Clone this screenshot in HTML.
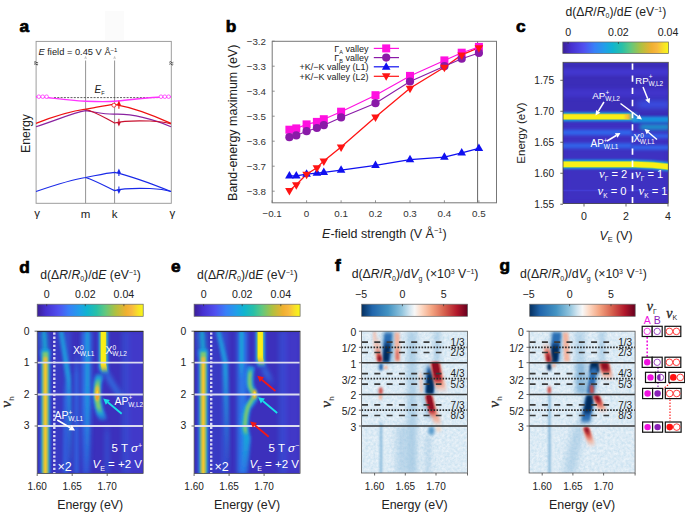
<!DOCTYPE html>
<html><head><meta charset="utf-8"><style>
html,body{margin:0;padding:0;background:#fff;}
svg{display:block;font-family:"Liberation Sans", sans-serif;}
</style></head><body>
<svg width="685" height="512" viewBox="0 0 685 512">
<rect width="685" height="512" fill="#fff"/>
<defs><linearGradient id="gpar" x1="0" y1="0" x2="1" y2="0"><stop offset="0.0" stop-color="#3b1f96"/><stop offset="0.08" stop-color="#4630d0"/><stop offset="0.2" stop-color="#5050f0"/><stop offset="0.3" stop-color="#3880f8"/><stop offset="0.4" stop-color="#20a0e8"/><stop offset="0.47" stop-color="#10b4d0"/><stop offset="0.56" stop-color="#28c0a8"/><stop offset="0.64" stop-color="#60c880"/><stop offset="0.74" stop-color="#b0c040"/><stop offset="0.84" stop-color="#f0b030"/><stop offset="0.89" stop-color="#f8b840"/><stop offset="0.95" stop-color="#f8e028"/><stop offset="1.0" stop-color="#f8f818"/></linearGradient><linearGradient id="grdbu" x1="0" y1="0" x2="1" y2="0"><stop offset="0.0" stop-color="#053061"/><stop offset="0.1" stop-color="#2166ac"/><stop offset="0.25" stop-color="#4393c3"/><stop offset="0.38" stop-color="#92c5de"/><stop offset="0.45" stop-color="#d1e5f0"/><stop offset="0.5" stop-color="#f7f7f7"/><stop offset="0.56" stop-color="#fddbc7"/><stop offset="0.66" stop-color="#f4a582"/><stop offset="0.78" stop-color="#d6604d"/><stop offset="0.9" stop-color="#b2182b"/><stop offset="1.0" stop-color="#67001f"/></linearGradient><filter id="bl0_1" filterUnits="userSpaceOnUse" x="0" y="0" width="685" height="512"><feGaussianBlur stdDeviation="0.1"/></filter><filter id="bl0_2" filterUnits="userSpaceOnUse" x="0" y="0" width="685" height="512"><feGaussianBlur stdDeviation="0.2"/></filter><filter id="bl0_3" filterUnits="userSpaceOnUse" x="0" y="0" width="685" height="512"><feGaussianBlur stdDeviation="0.3"/></filter><filter id="bl0_4" filterUnits="userSpaceOnUse" x="0" y="0" width="685" height="512"><feGaussianBlur stdDeviation="0.4"/></filter><filter id="bl0_5" filterUnits="userSpaceOnUse" x="0" y="0" width="685" height="512"><feGaussianBlur stdDeviation="0.5"/></filter><filter id="bl0_6" filterUnits="userSpaceOnUse" x="0" y="0" width="685" height="512"><feGaussianBlur stdDeviation="0.6"/></filter><filter id="bl0_7" filterUnits="userSpaceOnUse" x="0" y="0" width="685" height="512"><feGaussianBlur stdDeviation="0.7"/></filter><filter id="bl0_8" filterUnits="userSpaceOnUse" x="0" y="0" width="685" height="512"><feGaussianBlur stdDeviation="0.8"/></filter><filter id="bl0_9" filterUnits="userSpaceOnUse" x="0" y="0" width="685" height="512"><feGaussianBlur stdDeviation="0.9"/></filter><filter id="bl1_0" filterUnits="userSpaceOnUse" x="0" y="0" width="685" height="512"><feGaussianBlur stdDeviation="1.0"/></filter><filter id="bl1_1" filterUnits="userSpaceOnUse" x="0" y="0" width="685" height="512"><feGaussianBlur stdDeviation="1.1"/></filter><filter id="bl1_2" filterUnits="userSpaceOnUse" x="0" y="0" width="685" height="512"><feGaussianBlur stdDeviation="1.2"/></filter><filter id="bl1_3" filterUnits="userSpaceOnUse" x="0" y="0" width="685" height="512"><feGaussianBlur stdDeviation="1.3"/></filter><filter id="bl1_4" filterUnits="userSpaceOnUse" x="0" y="0" width="685" height="512"><feGaussianBlur stdDeviation="1.4"/></filter><filter id="bl1_5" filterUnits="userSpaceOnUse" x="0" y="0" width="685" height="512"><feGaussianBlur stdDeviation="1.5"/></filter><filter id="bl1_6" filterUnits="userSpaceOnUse" x="0" y="0" width="685" height="512"><feGaussianBlur stdDeviation="1.6"/></filter><filter id="bl1_7" filterUnits="userSpaceOnUse" x="0" y="0" width="685" height="512"><feGaussianBlur stdDeviation="1.7"/></filter><filter id="bl1_8" filterUnits="userSpaceOnUse" x="0" y="0" width="685" height="512"><feGaussianBlur stdDeviation="1.8"/></filter><filter id="bl1_9" filterUnits="userSpaceOnUse" x="0" y="0" width="685" height="512"><feGaussianBlur stdDeviation="1.9"/></filter><filter id="bl2_0" filterUnits="userSpaceOnUse" x="0" y="0" width="685" height="512"><feGaussianBlur stdDeviation="2.0"/></filter><filter id="bl2_1" filterUnits="userSpaceOnUse" x="0" y="0" width="685" height="512"><feGaussianBlur stdDeviation="2.1"/></filter><filter id="bl2_2" filterUnits="userSpaceOnUse" x="0" y="0" width="685" height="512"><feGaussianBlur stdDeviation="2.2"/></filter><filter id="bl2_3" filterUnits="userSpaceOnUse" x="0" y="0" width="685" height="512"><feGaussianBlur stdDeviation="2.3"/></filter><filter id="bl2_4" filterUnits="userSpaceOnUse" x="0" y="0" width="685" height="512"><feGaussianBlur stdDeviation="2.4"/></filter><filter id="bl2_5" filterUnits="userSpaceOnUse" x="0" y="0" width="685" height="512"><feGaussianBlur stdDeviation="2.5"/></filter><filter id="bl2_6" filterUnits="userSpaceOnUse" x="0" y="0" width="685" height="512"><feGaussianBlur stdDeviation="2.6"/></filter><filter id="bl2_7" filterUnits="userSpaceOnUse" x="0" y="0" width="685" height="512"><feGaussianBlur stdDeviation="2.7"/></filter><filter id="bl2_8" filterUnits="userSpaceOnUse" x="0" y="0" width="685" height="512"><feGaussianBlur stdDeviation="2.8"/></filter><filter id="bl2_9" filterUnits="userSpaceOnUse" x="0" y="0" width="685" height="512"><feGaussianBlur stdDeviation="2.9"/></filter><filter id="bl3_0" filterUnits="userSpaceOnUse" x="0" y="0" width="685" height="512"><feGaussianBlur stdDeviation="3.0"/></filter><filter id="bl3_1" filterUnits="userSpaceOnUse" x="0" y="0" width="685" height="512"><feGaussianBlur stdDeviation="3.1"/></filter><filter id="bl3_2" filterUnits="userSpaceOnUse" x="0" y="0" width="685" height="512"><feGaussianBlur stdDeviation="3.2"/></filter><filter id="bl3_3" filterUnits="userSpaceOnUse" x="0" y="0" width="685" height="512"><feGaussianBlur stdDeviation="3.3"/></filter><filter id="bl3_4" filterUnits="userSpaceOnUse" x="0" y="0" width="685" height="512"><feGaussianBlur stdDeviation="3.4"/></filter><filter id="bl3_5" filterUnits="userSpaceOnUse" x="0" y="0" width="685" height="512"><feGaussianBlur stdDeviation="3.5"/></filter><filter id="bl3_6" filterUnits="userSpaceOnUse" x="0" y="0" width="685" height="512"><feGaussianBlur stdDeviation="3.6"/></filter><filter id="bl3_7" filterUnits="userSpaceOnUse" x="0" y="0" width="685" height="512"><feGaussianBlur stdDeviation="3.7"/></filter><filter id="bl3_8" filterUnits="userSpaceOnUse" x="0" y="0" width="685" height="512"><feGaussianBlur stdDeviation="3.8"/></filter><filter id="bl3_9" filterUnits="userSpaceOnUse" x="0" y="0" width="685" height="512"><feGaussianBlur stdDeviation="3.9"/></filter><filter id="bl4_0" filterUnits="userSpaceOnUse" x="0" y="0" width="685" height="512"><feGaussianBlur stdDeviation="4.0"/></filter><filter id="noise" filterUnits="userSpaceOnUse" x="0" y="0" width="685" height="512"><feTurbulence type="fractalNoise" baseFrequency="0.38" numOctaves="3" seed="5"/><feColorMatrix type="matrix" values="0.42 0 0 0 0.52  0.24 0 0 0 0.72  0.14 0 0 0 0.845  0 0 0 0 1"/></filter><clipPath id="cpc"><rect x="563" y="62.3" width="105.3" height="141.7"/></clipPath><clipPath id="cpd"><rect x="37.2" y="331.2" width="106" height="142.3"/></clipPath><clipPath id="cpe"><rect x="194.1" y="331.2" width="105.7" height="142.3"/></clipPath><clipPath id="cpf"><rect x="361.5" y="331.2" width="106" height="141.8"/></clipPath><clipPath id="cpg"><rect x="529.1" y="331.2" width="105.8" height="141.8"/></clipPath><marker id="arw" viewBox="0 0 10 10" refX="8" refY="5" markerWidth="4" markerHeight="4" orient="auto-start-reverse"><path d="M0,0 L10,5 L0,10 z" fill="context-stroke"/></marker></defs>
<text x="19.4" y="32.0" font-size="17.3" text-anchor="start" fill="#000" font-weight="bold" stroke="#000" stroke-width="0.7">a</text>
<text x="225.8" y="31.7" font-size="17.3" text-anchor="start" fill="#000" font-weight="bold" stroke="#000" stroke-width="0.7">b</text>
<text x="516.0" y="32.3" font-size="17.3" text-anchor="start" fill="#000" font-weight="bold" stroke="#000" stroke-width="0.7">c</text>
<text x="19.2" y="272.5" font-size="17.3" text-anchor="start" fill="#000" font-weight="bold" stroke="#000" stroke-width="0.7">d</text>
<text x="171.0" y="272.3" font-size="17.3" text-anchor="start" fill="#000" font-weight="bold" stroke="#000" stroke-width="0.7">e</text>
<text x="335.0" y="271.0" font-size="17.3" text-anchor="start" fill="#000" font-weight="bold" stroke="#000" stroke-width="0.7">f</text>
<text x="499.5" y="271.0" font-size="17.3" text-anchor="start" fill="#000" font-weight="bold" stroke="#000" stroke-width="0.7">g</text>
<rect x="105" y="11" width="19" height="29" fill="#fbfbfb"/>
<line x1="85.6" y1="60.5" x2="85.6" y2="203.3" stroke="#777" stroke-width="0.8"/>
<line x1="114.6" y1="60.5" x2="114.6" y2="203.3" stroke="#777" stroke-width="0.8"/>
<path d="M84.8,59 L85.6,56.5 L86.39999999999999,59" stroke="#999" stroke-width="0.5" fill="none"/>
<path d="M113.8,59 L114.6,56.5 L115.39999999999999,59" stroke="#999" stroke-width="0.5" fill="none"/>
<rect x="36.1" y="41.4" width="135.20000000000002" height="161.9" fill="none" stroke="#999" stroke-width="0.95"/>
<path d="M34.1,62.3 q1,-1.3 2,0 t2,0 M34.1,64.3 q1,-1.3 2,0 t2,0" stroke="#111" stroke-width="0.75" fill="none"/>
<path d="M169.3,62.3 q1,-1.3 2,0 t2,0 M169.3,64.3 q1,-1.3 2,0 t2,0" stroke="#111" stroke-width="0.75" fill="none"/>
<text x="38.5" y="55.0" font-size="9.3" text-anchor="start" fill="#222" ><tspan font-style="italic">E</tspan> field = 0.45 V Å<tspan font-size="6" dy="-3.5">−1</tspan></text>
<line x1="54" y1="97.6" x2="159" y2="97.6" stroke="#333" stroke-width="0.8" stroke-dasharray="2,1.3"/>
<text x="94.5" y="93.0" font-size="10" text-anchor="start" fill="#222" ><tspan font-style="italic">E</tspan><tspan font-size="5.5" dy="1.5">F</tspan></text>
<path d="M36,96.7 C48,96.8 62,100.2 85.6,101.3 C100,101.8 108,101.8 114.6,101.3 C130,100 148,96.8 171,96.7" stroke="#ff33ff" stroke-width="1.4" fill="none"/>
<circle cx="38.8" cy="96.7" r="1.8" fill="#fff" stroke="#ff33ff" stroke-width="0.8"/>
<circle cx="42.7" cy="96.7" r="1.8" fill="#fff" stroke="#ff33ff" stroke-width="0.8"/>
<circle cx="46.6" cy="96.7" r="1.8" fill="#fff" stroke="#ff33ff" stroke-width="0.8"/>
<circle cx="161" cy="96.7" r="1.8" fill="#fff" stroke="#ff33ff" stroke-width="0.8"/>
<circle cx="164.8" cy="96.7" r="1.8" fill="#fff" stroke="#ff33ff" stroke-width="0.8"/>
<circle cx="168.6" cy="96.7" r="1.8" fill="#fff" stroke="#ff33ff" stroke-width="0.8"/>
<path d="M36,126.7 C55,121 72,113 85.6,110.7 C95,112 105,114.5 114.6,114.2 C135,113.5 155,120 171,126.7" stroke="#8a22a0" stroke-width="1.2" fill="none"/>
<path d="M85.6,109.5 C96,112 105,118 114.6,123 C122,121 135,120.5 150,121 C160,121.5 166,122.5 171,123.8" stroke="#c8102e" stroke-width="1.2" fill="none"/>
<path d="M36,123.4 C55,116 72,111 85.6,109.2 C96,107.5 106,105 114.6,104.3 C135,108 155,116 171,123.4" stroke="#ee1111" stroke-width="1.2" fill="none"/>
<circle cx="113.9" cy="105.2" r="2" fill="#fff" stroke="#ee1111" stroke-width="0.8"/>
<path d="M118.9,108.7 L118.9,103.5" stroke="#ee1111" stroke-width="1.1"/><path d="M116.9,105.1 L118.9,100.5 L120.9,105.1 z" fill="#ee1111"/>
<path d="M118.9,118.8 L118.9,123.6" stroke="#c8102e" stroke-width="1.1"/><path d="M116.9,122.0 L118.9,126.6 L120.9,122.0 z" fill="#c8102e"/>
<path d="M36,191.5 C55,185 72,179.5 85.6,177.5 C96,175.5 106,173 114.6,172.3 C135,177 155,185 171,191.5" stroke="#1a2ae8" stroke-width="1.2" fill="none"/>
<path d="M85.6,177.5 C96,181 105,186 114.6,190.6 C122,188.5 135,188 150,188.5 C160,189 166,190 171,191.5" stroke="#1a2ae8" stroke-width="1.2" fill="none"/>
<path d="M118.9,176 L118.9,171.5" stroke="#1a2ae8" stroke-width="1.1"/><path d="M116.9,173.1 L118.9,168.5 L120.9,173.1 z" fill="#1a2ae8"/>
<path d="M118.9,186.5 L118.9,191" stroke="#1a2ae8" stroke-width="1.1"/><path d="M116.9,189.4 L118.9,194 L120.9,189.4 z" fill="#1a2ae8"/>
<text x="37.1" y="216.5" font-size="11.5" text-anchor="middle" fill="#222" >γ</text>
<text x="85.6" y="218.0" font-size="11.5" text-anchor="middle" fill="#222" >m</text>
<text x="114.6" y="218.0" font-size="11.5" text-anchor="middle" fill="#222" >k</text>
<text x="172.3" y="216.5" font-size="11.5" text-anchor="middle" fill="#222" >γ</text>
<text x="0" y="0" font-size="12.3" text-anchor="middle" fill="#222" transform="translate(29.6,133.5) rotate(-90)">Energy</text>
<line x1="477.6" y1="41.3" x2="477.6" y2="202.8" stroke="#555" stroke-width="0.9"/>
<rect x="272.2" y="41.3" width="224.3" height="161.5" fill="none" stroke="#777" stroke-width="1"/>
<line x1="272.2" y1="41.2" x2="274.7" y2="41.2" stroke="#777" stroke-width="0.8"/>
<text x="266.0" y="44.7" font-size="9.8" text-anchor="end" fill="#333" >−3.2</text>
<line x1="272.2" y1="66.2" x2="274.7" y2="66.2" stroke="#777" stroke-width="0.8"/>
<text x="266.0" y="69.7" font-size="9.8" text-anchor="end" fill="#333" >−3.3</text>
<line x1="272.2" y1="91.2" x2="274.7" y2="91.2" stroke="#777" stroke-width="0.8"/>
<text x="266.0" y="94.7" font-size="9.8" text-anchor="end" fill="#333" >−3.4</text>
<line x1="272.2" y1="116.2" x2="274.7" y2="116.2" stroke="#777" stroke-width="0.8"/>
<text x="266.0" y="119.7" font-size="9.8" text-anchor="end" fill="#333" >−3.5</text>
<line x1="272.2" y1="141.2" x2="274.7" y2="141.2" stroke="#777" stroke-width="0.8"/>
<text x="266.0" y="144.7" font-size="9.8" text-anchor="end" fill="#333" >−3.6</text>
<line x1="272.2" y1="166.2" x2="274.7" y2="166.2" stroke="#777" stroke-width="0.8"/>
<text x="266.0" y="169.7" font-size="9.8" text-anchor="end" fill="#333" >−3.7</text>
<line x1="272.2" y1="191.2" x2="274.7" y2="191.2" stroke="#777" stroke-width="0.8"/>
<text x="266.0" y="194.7" font-size="9.8" text-anchor="end" fill="#333" >−3.8</text>
<line x1="272.1" y1="202.8" x2="272.1" y2="200.3" stroke="#777" stroke-width="0.8"/>
<text x="272.1" y="217.3" font-size="9.8" text-anchor="middle" fill="#333" >−0.1</text>
<line x1="306.6" y1="202.8" x2="306.6" y2="200.3" stroke="#777" stroke-width="0.8"/>
<text x="306.6" y="217.3" font-size="9.8" text-anchor="middle" fill="#333" >0</text>
<line x1="341.1" y1="202.8" x2="341.1" y2="200.3" stroke="#777" stroke-width="0.8"/>
<text x="341.1" y="217.3" font-size="9.8" text-anchor="middle" fill="#333" >0.1</text>
<line x1="375.5" y1="202.8" x2="375.5" y2="200.3" stroke="#777" stroke-width="0.8"/>
<text x="375.5" y="217.3" font-size="9.8" text-anchor="middle" fill="#333" >0.2</text>
<line x1="410.0" y1="202.8" x2="410.0" y2="200.3" stroke="#777" stroke-width="0.8"/>
<text x="410.0" y="217.3" font-size="9.8" text-anchor="middle" fill="#333" >0.3</text>
<line x1="444.4" y1="202.8" x2="444.4" y2="200.3" stroke="#777" stroke-width="0.8"/>
<text x="444.4" y="217.3" font-size="9.8" text-anchor="middle" fill="#333" >0.4</text>
<line x1="478.9" y1="202.8" x2="478.9" y2="200.3" stroke="#777" stroke-width="0.8"/>
<text x="478.9" y="217.3" font-size="9.8" text-anchor="middle" fill="#333" >0.5</text>
<text x="384.4" y="237.7" font-size="12.5" text-anchor="middle" fill="#222" ><tspan font-style="italic">E</tspan>-field strength (V Å<tspan font-size="7.5" dy="-4.5">−1</tspan><tspan dy="4.5">)</tspan></text>
<text x="0" y="0" font-size="12.5" text-anchor="middle" fill="#222" transform="translate(236.5,122.8) rotate(-90)">Band-energy maximum (eV)</text>
<polyline points="289.4,175.9 296.3,175.9 306.6,174.2 316.9,173.2 323.8,172.4 341.1,170.2 375.5,165.4 410.0,159.7 444.4,157.2 461.7,152.9 478.9,148.4" fill="none" stroke="#1010f0" stroke-width="1.3"/>
<polyline points="289.4,190.4 296.3,184.7 306.6,174.2 316.9,167.7 323.8,160.9 341.1,147.0 375.5,116.9 410.0,88.2 444.4,67.2 461.7,54.9 478.9,47.7" fill="none" stroke="#ff1414" stroke-width="1.3"/>
<polyline points="289.4,137.2 296.3,135.4 306.6,131.2 316.9,128.0 323.8,125.2 341.1,117.4 375.5,103.2 410.0,81.5 444.4,66.2 461.7,58.7 478.9,52.9" fill="none" stroke="#8a1aa8" stroke-width="1.1"/>
<polyline points="289.4,129.7 296.3,128.4 306.6,124.4 316.9,121.9 323.8,119.2 341.1,111.7 375.5,95.2 410.0,75.9 444.4,60.4 461.7,52.7 478.9,46.9" fill="none" stroke="#ff10e0" stroke-width="1.1"/>
<rect x="285.4" y="125.7" width="8" height="8" fill="#ff10e0"/>
<rect x="292.3" y="124.4" width="8" height="8" fill="#ff10e0"/>
<rect x="302.6" y="120.4" width="8" height="8" fill="#ff10e0"/>
<rect x="312.9" y="117.9" width="8" height="8" fill="#ff10e0"/>
<rect x="319.8" y="115.2" width="8" height="8" fill="#ff10e0"/>
<rect x="337.1" y="107.7" width="8" height="8" fill="#ff10e0"/>
<rect x="371.5" y="91.2" width="8" height="8" fill="#ff10e0"/>
<rect x="406.0" y="71.9" width="8" height="8" fill="#ff10e0"/>
<rect x="440.4" y="56.4" width="8" height="8" fill="#ff10e0"/>
<rect x="457.7" y="48.7" width="8" height="8" fill="#ff10e0"/>
<rect x="474.9" y="42.9" width="8" height="8" fill="#ff10e0"/>
<circle cx="289.4" cy="137.2" r="4.1" fill="#8a1aa8"/>
<circle cx="296.3" cy="135.4" r="4.1" fill="#8a1aa8"/>
<circle cx="306.6" cy="131.2" r="4.1" fill="#8a1aa8"/>
<circle cx="316.9" cy="128.0" r="4.1" fill="#8a1aa8"/>
<circle cx="323.8" cy="125.2" r="4.1" fill="#8a1aa8"/>
<circle cx="341.1" cy="117.4" r="4.1" fill="#8a1aa8"/>
<circle cx="375.5" cy="103.2" r="4.1" fill="#8a1aa8"/>
<circle cx="410.0" cy="81.5" r="4.1" fill="#8a1aa8"/>
<circle cx="444.4" cy="66.2" r="4.1" fill="#8a1aa8"/>
<circle cx="461.7" cy="58.7" r="4.1" fill="#8a1aa8"/>
<circle cx="478.9" cy="52.9" r="4.1" fill="#8a1aa8"/>
<path d="M285.1,178.4 L293.7,178.4 L289.4,171.0 z" fill="#1010f0"/>
<path d="M292.0,178.4 L300.6,178.4 L296.3,171.0 z" fill="#1010f0"/>
<path d="M302.3,176.7 L310.9,176.7 L306.6,169.2 z" fill="#1010f0"/>
<path d="M312.6,175.7 L321.2,175.7 L316.9,168.2 z" fill="#1010f0"/>
<path d="M319.5,174.9 L328.1,174.9 L323.8,167.5 z" fill="#1010f0"/>
<path d="M336.8,172.7 L345.4,172.7 L341.1,165.2 z" fill="#1010f0"/>
<path d="M371.2,167.9 L379.8,167.9 L375.5,160.5 z" fill="#1010f0"/>
<path d="M405.7,162.2 L414.3,162.2 L410.0,154.7 z" fill="#1010f0"/>
<path d="M440.1,159.7 L448.7,159.7 L444.4,152.2 z" fill="#1010f0"/>
<path d="M457.4,155.4 L466.0,155.4 L461.7,148.0 z" fill="#1010f0"/>
<path d="M474.6,150.9 L483.2,150.9 L478.9,143.5 z" fill="#1010f0"/>
<path d="M285.1,188.0 L293.7,188.0 L289.4,195.4 z" fill="#ff1414"/>
<path d="M292.0,182.2 L300.6,182.2 L296.3,189.7 z" fill="#ff1414"/>
<path d="M302.3,171.7 L310.9,171.7 L306.6,179.2 z" fill="#ff1414"/>
<path d="M312.6,165.2 L321.2,165.2 L316.9,172.7 z" fill="#ff1414"/>
<path d="M319.5,158.5 L328.1,158.5 L323.8,165.9 z" fill="#ff1414"/>
<path d="M336.8,144.5 L345.4,144.5 L341.1,151.9 z" fill="#ff1414"/>
<path d="M371.2,114.5 L379.8,114.5 L375.5,121.9 z" fill="#ff1414"/>
<path d="M405.7,85.7 L414.3,85.7 L410.0,93.2 z" fill="#ff1414"/>
<path d="M440.1,64.7 L448.7,64.7 L444.4,72.2 z" fill="#ff1414"/>
<path d="M457.4,52.5 L466.0,52.5 L461.7,59.9 z" fill="#ff1414"/>
<path d="M474.6,45.2 L483.2,45.2 L478.9,52.7 z" fill="#ff1414"/>
<text x="368.5" y="51.6" font-size="9" text-anchor="end" fill="#222" >Γ<tspan font-size="5.5" dy="2">A</tspan><tspan dy="-2"> valley</tspan></text>
<line x1="373.8" y1="48.4" x2="399" y2="48.4" stroke="#ff10e0" stroke-width="1.2"/>
<rect x="382.2" y="44.4" width="8" height="8" fill="#ff10e0"/>
<text x="368.5" y="60.8" font-size="9" text-anchor="end" fill="#222" >Γ<tspan font-size="5.5" dy="2">B</tspan><tspan dy="-2"> valley</tspan></text>
<line x1="373.8" y1="57.6" x2="399" y2="57.6" stroke="#8a1aa8" stroke-width="1.2"/>
<circle cx="386.2" cy="57.6" r="4.1" fill="#8a1aa8"/>
<text x="368.5" y="70.0" font-size="9" text-anchor="end" fill="#222" >+K/−K valley (L1)</text>
<line x1="373.8" y1="66.8" x2="399" y2="66.8" stroke="#1010f0" stroke-width="1.2"/>
<path d="M381.9,69.8 L390.5,69.8 L386.2,62.3 z" fill="#1010f0"/>
<text x="368.5" y="79.5" font-size="9" text-anchor="end" fill="#222" >+K/−K valley (L2)</text>
<line x1="373.8" y1="76.3" x2="399" y2="76.3" stroke="#ff1414" stroke-width="1.2"/>
<path d="M381.9,73.3 L390.5,73.3 L386.2,80.8 z" fill="#ff1414"/>
<text x="565.5" y="15.8" font-size="12.2" text-anchor="start" fill="#222" >d(Δ<tspan font-style="italic">R</tspan>/<tspan font-style="italic">R</tspan><tspan font-size="7" dy="2.5">0</tspan><tspan dy="-2.5">)/d</tspan><tspan font-style="italic">E</tspan> (eV<tspan font-size="7" dy="-4">−1</tspan><tspan dy="4">)</tspan></text>
<rect x="562.8" y="42" width="105.8" height="11.6" fill="url(#gpar)" stroke="#666" stroke-width="0.7"/>
<line x1="568.1" y1="42" x2="568.1" y2="44" stroke="#333" stroke-width="0.7"/>
<line x1="618.4" y1="42" x2="618.4" y2="44" stroke="#333" stroke-width="0.7"/>
<text x="568.1" y="35.5" font-size="10.6" text-anchor="middle" fill="#222" >0</text>
<text x="618.4" y="35.5" font-size="10.6" text-anchor="middle" fill="#222" >0.02</text>
<text x="668.0" y="35.5" font-size="10.6" text-anchor="middle" fill="#222" >0.04</text>
<g clip-path="url(#cpc)">
<rect x="563" y="62.3" width="105.29999999999995" height="141.2" fill="#3b2db8"/>
<rect x="563" y="120" width="106" height="84" fill="#3f33c4" opacity="0.8" filter="url(#bl3_0)"/>
<rect x="563" y="68.5" width="106" height="7" fill="#4a40e4" opacity="0.5" filter="url(#bl1_5)"/>
<rect x="563" y="89" width="106" height="8" fill="#4a40e4" opacity="0.45" filter="url(#bl2_0)"/>
<path d="M560,190.5 L670,190.5" stroke="#4a4ae8" stroke-width="1.5" fill="none" opacity="0.5" stroke-linecap="butt" filter="url(#bl0_7)"/>
<path d="M560,132.5 L632,132.5" stroke="#2f6ef2" stroke-width="5.5" fill="none" opacity="0.85" stroke-linecap="butt" filter="url(#bl1_4)"/>
<path d="M560,145.8 L632,145.8" stroke="#2f6ef2" stroke-width="5.5" fill="none" opacity="0.8" stroke-linecap="butt" filter="url(#bl1_4)"/>
<path d="M632,104.5 L670,104.5" stroke="url(#tg1)" stroke-width="8" fill="none" opacity="0.7" filter="url(#bl2_5)"/>
<path d="M632,119.5 L670,119.5" stroke="#1896e0" stroke-width="6" fill="none" opacity="0.95" stroke-linecap="butt" filter="url(#bl1_3)"/>
<path d="M640,127 L670,127" stroke="#10b4cc" stroke-width="5" fill="none" opacity="0.9" stroke-linecap="butt" filter="url(#bl2_2)"/>
<path d="M632,136 L670,136" stroke="#2f6ef2" stroke-width="4.5" fill="none" opacity="0.8" stroke-linecap="butt" filter="url(#bl1_4)"/>
<path d="M632,147.5 L670,147.5" stroke="#2f6ef2" stroke-width="5" fill="none" opacity="0.8" stroke-linecap="butt" filter="url(#bl1_4)"/>
<path d="M556,116.8 L640,116.8" stroke="url(#tg2)" stroke-width="9" fill="none" opacity="1.0" filter="url(#bl0_9)"/>
<path d="M556,116.8 L634,116.8" stroke="url(#tg3)" stroke-width="6.5" fill="none" opacity="1.0" filter="url(#bl0_7)"/>
<path d="M556,116.8 L632,116.8" stroke="url(#tg4)" stroke-width="5.0" fill="none" opacity="1.0" filter="url(#bl0_6)"/>
<path d="M556,116.8 L629,116.8" stroke="url(#tg5)" stroke-width="4.6" fill="none" opacity="1.0" filter="url(#bl0_5)"/>
<path d="M560,164.3 L635,164.3 C648,164.5 660,165.5 670,166.8" stroke="#1ca4e0" stroke-width="9" fill="none" opacity="1.0" stroke-linecap="butt" filter="url(#bl0_8)"/>
<path d="M560,164.3 L635,164.3 C648,164.5 660,165.5 670,166.8" stroke="#7cc670" stroke-width="6.8" fill="none" opacity="1.0" stroke-linecap="butt" filter="url(#bl0_6)"/>
<path d="M560,164.3 L635,164.3 C648,164.5 660,165.5 670,166.8" stroke="#f8f018" stroke-width="5.2" fill="none" opacity="1.0" stroke-linecap="butt" filter="url(#bl0_5)"/>
<line x1="632.5" y1="63.4" x2="632.5" y2="204" stroke="#fff" stroke-width="1.7" stroke-dasharray="6.3,5.85"/>
</g>
<rect x="563" y="62.3" width="105.29999999999995" height="141.2" fill="none" stroke="#444" stroke-width="0.8"/>
<line x1="560.3" y1="80.3" x2="563" y2="80.3" stroke="#444" stroke-width="0.8"/>
<text x="554.2" y="83.7" font-size="10.2" text-anchor="end" fill="#222" >1.75</text>
<line x1="560.3" y1="111.25" x2="563" y2="111.25" stroke="#444" stroke-width="0.8"/>
<text x="554.2" y="114.7" font-size="10.2" text-anchor="end" fill="#222" >1.70</text>
<line x1="560.3" y1="142.25" x2="563" y2="142.25" stroke="#444" stroke-width="0.8"/>
<text x="554.2" y="145.7" font-size="10.2" text-anchor="end" fill="#222" >1.65</text>
<line x1="560.3" y1="173.25" x2="563" y2="173.25" stroke="#444" stroke-width="0.8"/>
<text x="554.2" y="176.7" font-size="10.2" text-anchor="end" fill="#222" >1.60</text>
<line x1="560.3" y1="204.25" x2="563" y2="204.25" stroke="#444" stroke-width="0.8"/>
<text x="554.2" y="207.7" font-size="10.2" text-anchor="end" fill="#222" >1.55</text>
<line x1="584.0" y1="204" x2="584.0" y2="206.5" stroke="#444" stroke-width="0.8"/>
<text x="584.0" y="220.2" font-size="10.6" text-anchor="middle" fill="#222" >0</text>
<line x1="626.0" y1="204" x2="626.0" y2="206.5" stroke="#444" stroke-width="0.8"/>
<text x="626.0" y="220.2" font-size="10.6" text-anchor="middle" fill="#222" >2</text>
<line x1="668.0" y1="204" x2="668.0" y2="206.5" stroke="#444" stroke-width="0.8"/>
<text x="668.0" y="220.2" font-size="10.6" text-anchor="middle" fill="#222" >4</text>
<text x="616.0" y="239.5" font-size="12.3" text-anchor="middle" fill="#222" ><tspan font-style="italic">V</tspan><tspan font-size="7.5" dy="2.5">E</tspan><tspan dy="-2.5"> (V)</tspan></text>
<text x="0" y="0" font-size="11.5" text-anchor="middle" fill="#222" transform="translate(525,133) rotate(-90)">Energy (eV)</text>
<text x="635.3" y="83.9" font-size="9.6" text-anchor="start" fill="#ffffff" >RP<tspan font-size="6.5" dy="-4.5">+</tspan><tspan font-size="6.5" dx="-4" dy="6.8">W,L2</tspan></text>
<line x1="643.0" y1="87.0" x2="647.7" y2="98.8" stroke="#ffffff" stroke-width="1.5"/>
<path d="M649.5,103.5 L645.2,99.8 L650.1,97.9 z" fill="#ffffff"/>
<text x="592.3" y="99.0" font-size="9.8" text-anchor="start" fill="#ffffff" >AP<tspan font-size="6.5" dy="-4.5">+</tspan><tspan font-size="6.5" dx="-4" dy="6.8">W,L2</tspan></text>
<line x1="604.0" y1="102.0" x2="598.2" y2="111.3" stroke="#ffffff" stroke-width="1.5"/>
<path d="M595.5,115.5 L596.0,109.9 L600.4,112.7 z" fill="#ffffff"/>
<line x1="620.5" y1="103.5" x2="638.0" y2="116.5" stroke="#ffffff" stroke-width="1.5"/>
<path d="M642.0,119.5 L636.4,118.6 L639.5,114.4 z" fill="#ffffff"/>
<text x="633.5" y="142.0" font-size="10" text-anchor="start" fill="#ffffff" >X<tspan font-size="6.5" dy="-4.5">0</tspan><tspan font-size="6.5" dx="-4" dy="6.8">W,L1</tspan></text>
<line x1="657.0" y1="139.5" x2="648.3" y2="132.2" stroke="#ffffff" stroke-width="1.5"/>
<path d="M644.5,129.0 L650.0,130.2 L646.7,134.2 z" fill="#ffffff"/>
<text x="590.5" y="147.0" font-size="10" text-anchor="start" fill="#ffffff" >AP<tspan font-size="6.5" dy="-4.5">+</tspan><tspan font-size="6.5" dx="-4" dy="6.8">W,L1</tspan></text>
<line x1="607.0" y1="141.0" x2="616.2" y2="135.5" stroke="#ffffff" stroke-width="1.5"/>
<path d="M620.5,133.0 L617.5,137.8 L614.9,133.3 z" fill="#ffffff"/>
<text x="599.0" y="178.0" font-size="11.2" text-anchor="start" fill="#ffffff" ><tspan font-style="italic" font-family="Liberation Serif" font-size="12.8">ν</tspan><tspan font-size="6.5" dy="2.5">Γ</tspan><tspan dy="-2.5"> = 2</tspan></text>
<text x="635.0" y="178.0" font-size="11.2" text-anchor="start" fill="#ffffff" ><tspan font-style="italic" font-family="Liberation Serif" font-size="12.8">ν</tspan><tspan font-size="6.5" dy="2.5">Γ</tspan><tspan dy="-2.5"> = 1</tspan></text>
<text x="597.5" y="195.0" font-size="11.2" text-anchor="start" fill="#ffffff" ><tspan font-style="italic" font-family="Liberation Serif" font-size="12.8">ν</tspan><tspan font-size="6.5" dy="2.5">K</tspan><tspan dy="-2.5"> = 0</tspan></text>
<text x="638.5" y="195.0" font-size="11.2" text-anchor="start" fill="#ffffff" ><tspan font-style="italic" font-family="Liberation Serif" font-size="12.8">ν</tspan><tspan font-size="6.5" dy="2.5">K</tspan><tspan dy="-2.5"> = 1</tspan></text>
<text x="40.2" y="278.8" font-size="12.2" text-anchor="start" fill="#222" >d(Δ<tspan font-style="italic">R</tspan>/<tspan font-style="italic">R</tspan><tspan font-size="7" dy="2.5">0</tspan><tspan dy="-2.5">)/d</tspan><tspan font-style="italic">E</tspan> (eV<tspan font-size="7" dy="-4">−1</tspan><tspan dy="4">)</tspan></text>
<rect x="37.2" y="304.2" width="106.0" height="12.1" fill="url(#gpar)" stroke="#666" stroke-width="0.7"/>
<line x1="46.7" y1="304.2" x2="46.7" y2="306.2" stroke="#333" stroke-width="0.7"/>
<line x1="85.3" y1="304.2" x2="85.3" y2="306.2" stroke="#333" stroke-width="0.7"/>
<line x1="123.9" y1="304.2" x2="123.9" y2="306.2" stroke="#333" stroke-width="0.7"/>
<text x="46.7" y="298.0" font-size="10.6" text-anchor="middle" fill="#222" >0</text>
<text x="85.3" y="298.0" font-size="10.6" text-anchor="middle" fill="#222" >0.02</text>
<text x="123.9" y="298.0" font-size="10.6" text-anchor="middle" fill="#222" >0.04</text>
<g clip-path="url(#cpd)">
<rect x="37.2" y="331" width="106" height="143" fill="#3c30bc"/>
<rect x="63.0" y="331" width="8" height="143" fill="#2f7cf2" opacity="0.35" filter="url(#bl2_0)"/>
<rect x="82.5" y="331" width="7" height="143" fill="#2f7cf2" opacity="0.55" filter="url(#bl2_0)"/>
<rect x="121.5" y="331" width="8" height="143" fill="#2f7cf2" opacity="0.3" filter="url(#bl2_0)"/>
<rect x="56.0" y="331" width="4" height="143" fill="#2f7cf2" opacity="0.25" filter="url(#bl2_0)"/>
<path d="M43.6,331 L45.1,357" stroke="#1ca4e0" stroke-width="9" fill="none" opacity="0.6" stroke-linecap="butt" filter="url(#bl2_2)"/>
<path d="M44.1,331 L45.199999999999996,350" stroke="#18b0d0" stroke-width="3.5" fill="none" opacity="0.6" stroke-linecap="butt" filter="url(#bl1_2)"/>
<path d="M45.4,350 L45.4,474" stroke="#2a7cf0" stroke-width="11" fill="none" opacity="0.55" stroke-linecap="butt" filter="url(#bl1_8)"/>
<path d="M45.4,349 L45.4,474" stroke="#18a8d8" stroke-width="7.5" fill="none" opacity="0.95" stroke-linecap="butt" filter="url(#bl1_5)"/>
<path d="M45.4,352 L45.4,474" stroke="#80c870" stroke-width="5.5" fill="none" opacity="1.0" stroke-linecap="butt" filter="url(#bl1_3)"/>
<path d="M45.4,357 L45.4,474" stroke="#f0b838" stroke-width="3.6" fill="none" opacity="1.0" stroke-linecap="butt" filter="url(#bl0_8)"/>
<path d="M45.4,363 L45.4,474" stroke="#f8d020" stroke-width="1.6" fill="none" opacity="0.6" stroke-linecap="butt" filter="url(#bl0_6)"/>
<line x1="54.3" y1="332.5" x2="54.3" y2="474" stroke="#d8d8f4" stroke-width="2.4" stroke-dasharray="2.3,1.8"/>
<rect x="127" y="331" width="17" height="143" fill="#5050e8" opacity="0.3" filter="url(#bl2_0)"/>
<path d="M61,331 L68.5,378 L71,474" stroke="url(#tg6)" stroke-width="5" fill="none" opacity="0.85" filter="url(#bl1_6)"/>
<path d="M87,331 L86,474" stroke="url(#tg7)" stroke-width="10" fill="none" opacity="0.6" filter="url(#bl2_2)"/>
<path d="M87.5,331 L87.5,474" stroke="url(#tg8)" stroke-width="3.8" fill="none" opacity="0.6" filter="url(#bl1_3)"/>
<path d="M76.5,345 L76.5,474" stroke="url(#tg9)" stroke-width="5.5" fill="none" opacity="0.55" filter="url(#bl1_8)"/>
<path d="M65.5,380 L65,474" stroke="url(#tg10)" stroke-width="4.5" fill="none" opacity="0.4" filter="url(#bl1_8)"/>
<path d="M107,420 L107,474" stroke="url(#tg11)" stroke-width="5" fill="none" opacity="0.35" filter="url(#bl2_0)"/>
<path d="M103.4,331 L103.4,368 L105.5,377.0" stroke="url(#tg12)" stroke-width="11" fill="none" opacity="0.6" filter="url(#bl1_8)"/>
<path d="M103.4,331 L103.4,367 L105.3,375.5" stroke="url(#tg13)" stroke-width="8" fill="none" opacity="0.95" filter="url(#bl1_3)"/>
<path d="M103.4,331 L103.4,366 L105.1,374.0" stroke="url(#tg14)" stroke-width="6" fill="none" opacity="1.0" filter="url(#bl1_0)"/>
<path d="M103.4,331 L103.4,365 L104.9,372.5" stroke="url(#tg15)" stroke-width="5.4" fill="none" opacity="1.0" filter="url(#bl0_7)"/>
<path d="M103.4,331 L103.4,363.5 L104.6,370.25" stroke="url(#tg16)" stroke-width="4.8" fill="none" opacity="1.0" filter="url(#bl0_5)"/>
<path d="M106,372 C109,379 112,384 115,388 C118,393 121,398 124,404" stroke="url(#tg17)" stroke-width="6" fill="none" opacity="0.6" filter="url(#bl2_0)"/>
<path d="M99.6,374 C98,380 97,386 97,392 C97,400 98,406 100,412 C101,415 102,418 104,421" stroke="url(#tg18)" stroke-width="9" fill="none" opacity="0.6" filter="url(#bl1_8)"/>
<path d="M99.6,374 C98,380 97,386 97,392 C97,400 98,406 100,412 C101,415 102,418 104,421" stroke="url(#tg19)" stroke-width="6.5" fill="none" opacity="0.95" filter="url(#bl1_4)"/>
<path d="M99.6,374 C98,380 97,386 97,392 C97,400 98,406 100,412 C101,415 102,418 104,421" stroke="url(#tg20)" stroke-width="4.5" fill="none" opacity="1.0" filter="url(#bl1_1)"/>
<ellipse cx="97.3" cy="393.5" rx="2.4" ry="8" fill="#e8c038" opacity="1.0" transform="rotate(0 97.3 393.5)" filter="url(#bl1_0)"/>
<ellipse cx="97.2" cy="395" rx="1.6" ry="5" fill="#f0a030" opacity="1.0" transform="rotate(0 97.2 395)" filter="url(#bl0_7)"/>
<ellipse cx="97.2" cy="393" rx="1.0" ry="3" fill="#f8d820" opacity="1.0" transform="rotate(0 97.2 393)" filter="url(#bl0_5)"/>
<line x1="37.2" y1="362.7" x2="143.2" y2="362.7" stroke="#dcdcf0" stroke-width="1.8"/>
<line x1="37.2" y1="394.5" x2="143.2" y2="394.5" stroke="#dcdcf0" stroke-width="1.8"/>
<line x1="37.2" y1="426.0" x2="143.2" y2="426.0" stroke="#dcdcf0" stroke-width="1.8"/>
</g>
<rect x="37.2" y="331.2" width="106" height="142.3" fill="none" stroke="#444" stroke-width="0.7"/>
<line x1="37.2" y1="331.4" x2="143.2" y2="331.4" stroke="#222" stroke-width="0.9"/>
<line x1="34.6" y1="331.2" x2="37.2" y2="331.2" stroke="#444" stroke-width="0.8"/>
<text x="29.5" y="334.6" font-size="10.4" text-anchor="end" fill="#222" >0</text>
<line x1="34.6" y1="362.7" x2="37.2" y2="362.7" stroke="#444" stroke-width="0.8"/>
<text x="29.5" y="366.1" font-size="10.4" text-anchor="end" fill="#222" >1</text>
<line x1="34.6" y1="394.5" x2="37.2" y2="394.5" stroke="#444" stroke-width="0.8"/>
<text x="29.5" y="397.9" font-size="10.4" text-anchor="end" fill="#222" >2</text>
<line x1="34.6" y1="426.0" x2="37.2" y2="426.0" stroke="#444" stroke-width="0.8"/>
<text x="29.5" y="429.4" font-size="10.4" text-anchor="end" fill="#222" >3</text>
<line x1="37.2" y1="473.5" x2="37.2" y2="476" stroke="#444" stroke-width="0.8"/>
<text x="37.2" y="489.5" font-size="10" text-anchor="middle" fill="#222" >1.60</text>
<line x1="72.2" y1="473.5" x2="72.2" y2="476" stroke="#444" stroke-width="0.8"/>
<text x="72.2" y="489.5" font-size="10" text-anchor="middle" fill="#222" >1.65</text>
<line x1="107.2" y1="473.5" x2="107.2" y2="476" stroke="#444" stroke-width="0.8"/>
<text x="107.2" y="489.5" font-size="10" text-anchor="middle" fill="#222" >1.70</text>
<text x="90.2" y="508.9" font-size="12.4" text-anchor="middle" fill="#222" >Energy (eV)</text>
<text x="73.0" y="354.0" font-size="10.5" text-anchor="start" fill="#ffffff" >X<tspan font-size="6.5" dy="-4.5">0</tspan><tspan font-size="6.5" dx="-4" dy="6.8">W,L1</tspan></text>
<text x="105.5" y="354.0" font-size="10.5" text-anchor="start" fill="#ffffff" >X<tspan font-size="6.5" dy="-4.5">0</tspan><tspan font-size="6.5" dx="-4" dy="6.8">W,L2</tspan></text>
<text x="114.5" y="404.5" font-size="10.5" text-anchor="start" fill="#ffffff" >AP<tspan font-size="6.5" dy="-4.5">+</tspan><tspan font-size="6.5" dx="-4" dy="6.8">W,L2</tspan></text>
<line x1="121.7" y1="413.8" x2="107.8" y2="402.3" stroke="#19e0e8" stroke-width="1.8"/>
<path d="M103.2,398.5 L109.9,399.9 L105.8,404.8 z" fill="#19e0e8"/>
<text x="54.5" y="419.0" font-size="10.5" text-anchor="start" fill="#ffffff" >AP<tspan font-size="6.5" dy="-4.5">+</tspan><tspan font-size="6.5" dx="-4" dy="6.8">W,L1</tspan></text>
<line x1="57.2" y1="420.0" x2="70.3" y2="427.7" stroke="#ffffff" stroke-width="1.6"/>
<path d="M75.0,430.5 L68.7,430.3 L71.8,425.1 z" fill="#ffffff"/>
<text x="142.0" y="452.0" font-size="11.5" text-anchor="end" fill="#ffffff" >5 T <tspan font-style="italic">σ</tspan><tspan font-size="7" dy="-4">+</tspan></text>
<text x="142.0" y="468.0" font-size="11.5" text-anchor="end" fill="#ffffff" ><tspan font-style="italic">V</tspan><tspan font-size="7" dy="2.5">E</tspan><tspan dy="-2.5"> = +2 V</tspan></text>
<text x="57.5" y="471.0" font-size="12.5" text-anchor="start" fill="#ffffff" >×2</text>
<text x="0" y="0" font-size="12" text-anchor="middle" fill="#222" transform="translate(10.8,402) rotate(-90)"><tspan font-style="italic" font-family="Liberation Serif" font-size="15.5" stroke="#222" stroke-width="0.3">ν</tspan><tspan font-size="8" dy="3">h</tspan></text>
<text x="197.1" y="278.8" font-size="12.2" text-anchor="start" fill="#222" >d(Δ<tspan font-style="italic">R</tspan>/<tspan font-style="italic">R</tspan><tspan font-size="7" dy="2.5">0</tspan><tspan dy="-2.5">)/d</tspan><tspan font-style="italic">E</tspan> (eV<tspan font-size="7" dy="-4">−1</tspan><tspan dy="4">)</tspan></text>
<rect x="194.1" y="304.2" width="106.0" height="12.1" fill="url(#gpar)" stroke="#666" stroke-width="0.7"/>
<line x1="203.6" y1="304.2" x2="203.6" y2="306.2" stroke="#333" stroke-width="0.7"/>
<line x1="242.2" y1="304.2" x2="242.2" y2="306.2" stroke="#333" stroke-width="0.7"/>
<line x1="280.8" y1="304.2" x2="280.8" y2="306.2" stroke="#333" stroke-width="0.7"/>
<text x="203.6" y="298.0" font-size="10.6" text-anchor="middle" fill="#222" >0</text>
<text x="242.2" y="298.0" font-size="10.6" text-anchor="middle" fill="#222" >0.02</text>
<text x="280.8" y="298.0" font-size="10.6" text-anchor="middle" fill="#222" >0.04</text>
<g clip-path="url(#cpe)">
<rect x="194.1" y="331" width="106" height="143" fill="#3c30bc"/>
<rect x="219.9" y="331" width="8" height="143" fill="#2f7cf2" opacity="0.35" filter="url(#bl2_0)"/>
<rect x="239.4" y="331" width="7" height="143" fill="#2f7cf2" opacity="0.55" filter="url(#bl2_0)"/>
<rect x="278.4" y="331" width="8" height="143" fill="#2f7cf2" opacity="0.3" filter="url(#bl2_0)"/>
<rect x="212.9" y="331" width="4" height="143" fill="#2f7cf2" opacity="0.25" filter="url(#bl2_0)"/>
<path d="M201.5,331 L203.0,357" stroke="#1ca4e0" stroke-width="9" fill="none" opacity="0.6" stroke-linecap="butt" filter="url(#bl2_2)"/>
<path d="M202.0,331 L203.10000000000002,350" stroke="#18b0d0" stroke-width="3.5" fill="none" opacity="0.6" stroke-linecap="butt" filter="url(#bl1_2)"/>
<path d="M203.3,350 L203.3,474" stroke="#2a7cf0" stroke-width="11" fill="none" opacity="0.55" stroke-linecap="butt" filter="url(#bl1_8)"/>
<path d="M203.3,349 L203.3,474" stroke="#18a8d8" stroke-width="7.5" fill="none" opacity="0.95" stroke-linecap="butt" filter="url(#bl1_5)"/>
<path d="M203.3,352 L203.3,474" stroke="#80c870" stroke-width="5.5" fill="none" opacity="1.0" stroke-linecap="butt" filter="url(#bl1_3)"/>
<path d="M203.3,357 L203.3,474" stroke="#f0b838" stroke-width="3.6" fill="none" opacity="1.0" stroke-linecap="butt" filter="url(#bl0_8)"/>
<path d="M203.3,363 L203.3,474" stroke="#f8d020" stroke-width="1.6" fill="none" opacity="0.6" stroke-linecap="butt" filter="url(#bl0_6)"/>
<line x1="211.2" y1="332.5" x2="211.2" y2="474" stroke="#d8d8f4" stroke-width="2.4" stroke-dasharray="2.3,1.8"/>
<rect x="283" y="331" width="17" height="143" fill="#5050e8" opacity="0.25" filter="url(#bl2_0)"/>
<path d="M218.3,331 L225.3,362 L228,474" stroke="url(#tg21)" stroke-width="5" fill="none" opacity="0.85" filter="url(#bl1_6)"/>
<path d="M242,331 L242,474" stroke="#2a8cf0" stroke-width="10" fill="none" opacity="0.6" stroke-linecap="butt" filter="url(#bl2_2)"/>
<path d="M241.5,331 L241.5,380" stroke="url(#tg22)" stroke-width="4" fill="none" opacity="0.8" filter="url(#bl1_2)"/>
<path d="M260.3,331 L260.3,361 L262.3,370.0" stroke="url(#tg23)" stroke-width="11" fill="none" opacity="0.6" filter="url(#bl1_8)"/>
<path d="M260.3,331 L260.3,360 L262.1,368.5" stroke="url(#tg24)" stroke-width="8" fill="none" opacity="0.95" filter="url(#bl1_3)"/>
<path d="M260.3,331 L260.3,359 L261.90000000000003,367.0" stroke="url(#tg25)" stroke-width="6" fill="none" opacity="1.0" filter="url(#bl1_0)"/>
<path d="M260.3,331 L260.3,358 L261.7,365.5" stroke="url(#tg26)" stroke-width="5.4" fill="none" opacity="1.0" filter="url(#bl0_7)"/>
<path d="M260.3,331 L260.3,356.5 L261.40000000000003,363.25" stroke="url(#tg27)" stroke-width="4.8" fill="none" opacity="1.0" filter="url(#bl0_5)"/>
<path d="M263,366 C266,373 269,379 273,386" stroke="url(#tg28)" stroke-width="6" fill="none" opacity="0.55" filter="url(#bl2_0)"/>
<path d="M251.1,366 C249.5,372 249,378 249.6,384 C250.5,389 253,392 255,396 C253,401 249,404 247,408 C245.5,413 244.8,418 244.5,424 C244.2,430 245.5,434 246.7,438 C246,448 245,460 244.8,474" stroke="url(#tg29)" stroke-width="9" fill="none" opacity="0.6" filter="url(#bl1_8)"/>
<path d="M251.1,366 C249.5,372 249,378 249.6,384 C250.5,389 253,392 255,396 C253,401 249,404 247,408 C245.5,413 244.8,418 244.5,424 C244.2,430 245.5,434 246.7,438 C246,448 245,460 244.8,474" stroke="url(#tg30)" stroke-width="6" fill="none" opacity="0.95" filter="url(#bl1_4)"/>
<path d="M250.5,370 C249.5,376 249.4,382 250,386 C251,390 253,392 254.5,395 C252.5,400 249,404 247.5,408 C246,413 245.2,418 245,424 C244.8,428 245.3,432 246.2,435" stroke="url(#tg31)" stroke-width="3.6" fill="none" opacity="0.95" filter="url(#bl1_0)"/>
<ellipse cx="254.6" cy="394.2" rx="2.0" ry="4.8" fill="#f0a830" opacity="1.0" transform="rotate(0 254.6 394.2)" filter="url(#bl0_9)"/>
<ellipse cx="254.6" cy="394" rx="1.2" ry="2.6" fill="#f8e020" opacity="1.0" transform="rotate(0 254.6 394)" filter="url(#bl0_6)"/>
<line x1="194.1" y1="362.7" x2="300.1" y2="362.7" stroke="#dcdcf0" stroke-width="1.8"/>
<line x1="194.1" y1="394.5" x2="300.1" y2="394.5" stroke="#dcdcf0" stroke-width="1.8"/>
<line x1="194.1" y1="426.0" x2="300.1" y2="426.0" stroke="#dcdcf0" stroke-width="1.8"/>
</g>
<rect x="194.1" y="331.2" width="106" height="142.3" fill="none" stroke="#444" stroke-width="0.7"/>
<line x1="194.1" y1="331.4" x2="300.1" y2="331.4" stroke="#222" stroke-width="0.9"/>
<line x1="191.5" y1="331.2" x2="194.1" y2="331.2" stroke="#444" stroke-width="0.8"/>
<text x="186.4" y="334.6" font-size="10.4" text-anchor="end" fill="#222" >0</text>
<line x1="191.5" y1="362.7" x2="194.1" y2="362.7" stroke="#444" stroke-width="0.8"/>
<text x="186.4" y="366.1" font-size="10.4" text-anchor="end" fill="#222" >1</text>
<line x1="191.5" y1="394.5" x2="194.1" y2="394.5" stroke="#444" stroke-width="0.8"/>
<text x="186.4" y="397.9" font-size="10.4" text-anchor="end" fill="#222" >2</text>
<line x1="191.5" y1="426.0" x2="194.1" y2="426.0" stroke="#444" stroke-width="0.8"/>
<text x="186.4" y="429.4" font-size="10.4" text-anchor="end" fill="#222" >3</text>
<line x1="194.1" y1="473.5" x2="194.1" y2="476" stroke="#444" stroke-width="0.8"/>
<text x="194.1" y="489.5" font-size="10" text-anchor="middle" fill="#222" >1.60</text>
<line x1="229.1" y1="473.5" x2="229.1" y2="476" stroke="#444" stroke-width="0.8"/>
<text x="229.1" y="489.5" font-size="10" text-anchor="middle" fill="#222" >1.65</text>
<line x1="264.1" y1="473.5" x2="264.1" y2="476" stroke="#444" stroke-width="0.8"/>
<text x="264.1" y="489.5" font-size="10" text-anchor="middle" fill="#222" >1.70</text>
<text x="247.1" y="508.9" font-size="12.4" text-anchor="middle" fill="#222" >Energy (eV)</text>
<line x1="275.4" y1="391.0" x2="261.9" y2="379.7" stroke="#f01818" stroke-width="1.8"/>
<path d="M257.3,375.8 L264.0,377.2 L259.8,382.1 z" fill="#f01818"/>
<line x1="277.2" y1="413.0" x2="262.8" y2="401.0" stroke="#19e0e8" stroke-width="1.8"/>
<path d="M258.2,397.2 L264.9,398.6 L260.8,403.5 z" fill="#19e0e8"/>
<line x1="268.7" y1="436.8" x2="254.8" y2="425.3" stroke="#f01818" stroke-width="1.8"/>
<path d="M250.2,421.5 L256.9,422.9 L252.8,427.8 z" fill="#f01818"/>
<text x="299.0" y="452.0" font-size="11.5" text-anchor="end" fill="#ffffff" >5 T <tspan font-style="italic">σ</tspan><tspan font-size="7" dy="-4">−</tspan></text>
<text x="299.0" y="468.0" font-size="11.5" text-anchor="end" fill="#ffffff" ><tspan font-style="italic">V</tspan><tspan font-size="7" dy="2.5">E</tspan><tspan dy="-2.5"> = +2 V</tspan></text>
<text x="214.5" y="471.0" font-size="12.5" text-anchor="start" fill="#ffffff" >×2</text>
<text x="351.7" y="278.4" font-size="12.3" text-anchor="start" fill="#222" >d(Δ<tspan font-style="italic">R</tspan>/<tspan font-style="italic">R</tspan><tspan font-size="7" dy="2.5">0</tspan><tspan dy="-2.5">)/d</tspan><tspan font-style="italic">V</tspan><tspan font-size="7" dy="2.5">g</tspan><tspan dy="-2.5"> (×10</tspan><tspan font-size="7" dy="-4">3</tspan><tspan dy="4"> V</tspan><tspan font-size="7" dy="-4">−1</tspan><tspan dy="4">)</tspan></text>
<rect x="361.7" y="304.2" width="105.9" height="12.1" fill="url(#grdbu)" stroke="#666" stroke-width="0.7"/>
<line x1="402.4" y1="304.2" x2="402.4" y2="306.2" stroke="#333" stroke-width="0.7"/>
<line x1="443.6" y1="304.2" x2="443.6" y2="306.2" stroke="#333" stroke-width="0.7"/>
<text x="361.0" y="297.7" font-size="10.6" text-anchor="middle" fill="#222" >−5</text>
<text x="402.4" y="297.7" font-size="10.6" text-anchor="middle" fill="#222" >0</text>
<text x="443.6" y="297.7" font-size="10.6" text-anchor="middle" fill="#222" >5</text>
<g clip-path="url(#cpf)">
<rect x="361.5" y="331" width="106" height="143" fill="#c9dced"/>
<rect x="361.5" y="331" width="106" height="143" filter="url(#noise)" opacity="0.9"/>
<path d="M412,331 L412,474" stroke="#9cc4e0" stroke-width="10" fill="none" opacity="0.7" stroke-linecap="butt" filter="url(#bl2_5)"/>
<path d="M437,331 L437,362" stroke="#9cc4e0" stroke-width="6" fill="none" opacity="0.7" stroke-linecap="butt" filter="url(#bl2_0)"/>
<path d="M381.3,420 L381.3,474" stroke="url(#tg32)" stroke-width="3" fill="none" opacity="0.85" filter="url(#bl1_0)"/>
<path d="M391,331 L391,362" stroke="#9cc4e0" stroke-width="12" fill="none" opacity="0.5" stroke-linecap="butt" filter="url(#bl2_5)"/>
<path d="M402,426 L402,474" stroke="#8fbcdc" stroke-width="12" fill="none" opacity="0.45" stroke-linecap="butt" filter="url(#bl3_0)"/>
<path d="M428,436 L428,474" stroke="#8fbcdc" stroke-width="6" fill="none" opacity="0.4" stroke-linecap="butt" filter="url(#bl2_5)"/>
<path d="M384,426 L384,474" stroke="#e4eef6" stroke-width="3" fill="none" opacity="0.6" stroke-linecap="butt" filter="url(#bl1_0)"/>
<path d="M389,331 L385.5,363" stroke="url(#tg33)" stroke-width="12" fill="none" opacity="0.55" filter="url(#bl2_0)"/>
<path d="M388.5,331 L385.8,363" stroke="url(#tg34)" stroke-width="7.5" fill="none" opacity="1.0" filter="url(#bl1_2)"/>
<path d="M388,340 L385.5,362" stroke="url(#tg35)" stroke-width="6" fill="none" opacity="1.0" filter="url(#bl1_0)"/>
<path d="M375.5,336 L379.5,362" stroke="url(#tg36)" stroke-width="6" fill="none" opacity="0.75" filter="url(#bl1_4)"/>
<path d="M377.5,348 L380,362" stroke="url(#tg37)" stroke-width="4" fill="none" opacity="1.0" filter="url(#bl1_0)"/>
<ellipse cx="379.5" cy="358.5" rx="1.8" ry="3" fill="#900c24" opacity="1.0" transform="rotate(0 379.5 358.5)" filter="url(#bl0_8)"/>
<path d="M397,331 L397.5,362" stroke="url(#tg38)" stroke-width="5" fill="none" opacity="0.95" filter="url(#bl1_2)"/>
<path d="M397.3,348 L397.5,361" stroke="url(#tg39)" stroke-width="3" fill="none" opacity="0.7" filter="url(#bl1_0)"/>
<path d="M374.5,331 L375,343" stroke="url(#tg40)" stroke-width="3" fill="none" opacity="0.7" filter="url(#bl1_0)"/>
<path d="M431,362 L429,394" stroke="url(#tg41)" stroke-width="13" fill="none" opacity="0.55" filter="url(#bl2_2)"/>
<path d="M431.5,364 L429.5,394" stroke="url(#tg42)" stroke-width="8" fill="none" opacity="1.0" filter="url(#bl1_2)"/>
<path d="M431.5,368 L429.5,394" stroke="url(#tg43)" stroke-width="6.5" fill="none" opacity="1.0" filter="url(#bl1_0)"/>
<path d="M430.8,375 L429.8,393" stroke="url(#tg44)" stroke-width="5" fill="none" opacity="1.0" filter="url(#bl0_8)"/>
<path d="M420.5,370 L421.5,394" stroke="url(#tg45)" stroke-width="3" fill="none" opacity="0.9" filter="url(#bl1_2)"/>
<path d="M434.5,362 L442,393" stroke="url(#tg46)" stroke-width="10" fill="none" opacity="1.0" filter="url(#bl1_8)"/>
<path d="M435.2,362 L439,387" stroke="url(#tg47)" stroke-width="8" fill="none" opacity="1.0" filter="url(#bl1_2)"/>
<path d="M435.2,362 L438.5,383" stroke="url(#tg48)" stroke-width="6.5" fill="none" opacity="1.0" filter="url(#bl0_9)"/>
<path d="M434.8,362 L437,376" stroke="url(#tg49)" stroke-width="5" fill="none" opacity="1.0" filter="url(#bl0_7)"/>
<ellipse cx="381" cy="367" rx="2.2" ry="3.8" fill="#2a6eb4" opacity="1.0" transform="rotate(0 381 367)" filter="url(#bl1_0)"/>
<ellipse cx="385.8" cy="367.5" rx="1.8" ry="2" fill="#f4b09a" opacity="1.0" transform="rotate(0 385.8 367.5)" filter="url(#bl1_0)"/>
<ellipse cx="380.7" cy="391" rx="2" ry="3.8" fill="#d05048" opacity="1.0" transform="rotate(0 380.7 391)" filter="url(#bl1_0)"/>
<path d="M426,395 L432,422" stroke="url(#tg50)" stroke-width="10" fill="none" opacity="0.45" filter="url(#bl2_2)"/>
<path d="M428.5,395 L438.5,426" stroke="url(#tg51)" stroke-width="7" fill="none" opacity="0.95" filter="url(#bl1_6)"/>
<path d="M428.5,395 L433.5,418" stroke="url(#tg52)" stroke-width="6.5" fill="none" opacity="1.0" filter="url(#bl1_2)"/>
<path d="M428.5,395 L432.5,413" stroke="url(#tg53)" stroke-width="5.2" fill="none" opacity="1.0" filter="url(#bl0_9)"/>
<path d="M428.5,395 L431.5,409" stroke="url(#tg54)" stroke-width="4" fill="none" opacity="1.0" filter="url(#bl0_7)"/>
<ellipse cx="431.4" cy="430.7" rx="3.2" ry="4.2" fill="#5c9ccc" opacity="1.0" transform="rotate(0 431.4 430.7)" filter="url(#bl1_4)"/>
<ellipse cx="438.5" cy="429" rx="2.5" ry="3" fill="#f2d8c8" opacity="1.0" transform="rotate(0 438.5 429)" filter="url(#bl1_4)"/>
<ellipse cx="380.5" cy="397" rx="1.5" ry="3" fill="#f4b09a" opacity="1.0" transform="rotate(0 380.5 397)" filter="url(#bl1_0)"/>
<line x1="362.0" y1="342.1" x2="441.5" y2="342.1" stroke="#3a3a3a" stroke-width="1.7" stroke-dasharray="6,6.3"/>
<line x1="362.0" y1="352.5" x2="441.5" y2="352.5" stroke="#3a3a3a" stroke-width="1.7" stroke-dasharray="6,6.3"/>
<line x1="362.0" y1="373.7" x2="441.5" y2="373.7" stroke="#3a3a3a" stroke-width="1.7" stroke-dasharray="6,6.3"/>
<line x1="362.0" y1="384.2" x2="441.5" y2="384.2" stroke="#3a3a3a" stroke-width="1.7" stroke-dasharray="6,6.3"/>
<line x1="362.0" y1="404.9" x2="441.5" y2="404.9" stroke="#3a3a3a" stroke-width="1.7" stroke-dasharray="6,6.3"/>
<line x1="362.0" y1="415.5" x2="441.5" y2="415.5" stroke="#3a3a3a" stroke-width="1.7" stroke-dasharray="6,6.3"/>
<line x1="361.5" y1="347.3" x2="467.5" y2="347.3" stroke="#2a2a2a" stroke-width="1.8" stroke-dasharray="1.6,1.4"/>
<line x1="361.5" y1="378.6" x2="467.5" y2="378.6" stroke="#2a2a2a" stroke-width="1.8" stroke-dasharray="1.6,1.4"/>
<line x1="361.5" y1="410.2" x2="467.5" y2="410.2" stroke="#2a2a2a" stroke-width="1.8" stroke-dasharray="1.6,1.4"/>
<line x1="361.5" y1="362.7" x2="467.5" y2="362.7" stroke="#333" stroke-width="1.6"/>
<line x1="361.5" y1="394.5" x2="467.5" y2="394.5" stroke="#333" stroke-width="1.6"/>
<line x1="361.5" y1="426.0" x2="467.5" y2="426.0" stroke="#333" stroke-width="1.6"/>
</g>
<rect x="361.5" y="331.2" width="106" height="141.8" fill="none" stroke="#555" stroke-width="0.8"/>
<text x="464.5" y="345.7" font-size="10" text-anchor="end" fill="#222" >1/3</text>
<text x="464.5" y="356.1" font-size="10" text-anchor="end" fill="#222" >2/3</text>
<text x="464.5" y="377.3" font-size="10" text-anchor="end" fill="#222" >4/3</text>
<text x="464.5" y="387.8" font-size="10" text-anchor="end" fill="#222" >5/3</text>
<text x="464.5" y="408.5" font-size="10" text-anchor="end" fill="#222" >7/3</text>
<text x="464.5" y="419.1" font-size="10" text-anchor="end" fill="#222" >8/3</text>
<line x1="358.9" y1="331.2" x2="361.5" y2="331.2" stroke="#444" stroke-width="0.8"/>
<text x="356.2" y="336.1" font-size="10.4" text-anchor="end" fill="#222" >0</text>
<line x1="358.9" y1="347.3" x2="361.5" y2="347.3" stroke="#444" stroke-width="0.8"/>
<text x="356.2" y="352.2" font-size="10.4" text-anchor="end" fill="#222" >1/2</text>
<line x1="358.9" y1="362.7" x2="361.5" y2="362.7" stroke="#444" stroke-width="0.8"/>
<text x="356.2" y="367.6" font-size="10.4" text-anchor="end" fill="#222" >1</text>
<line x1="358.9" y1="378.6" x2="361.5" y2="378.6" stroke="#444" stroke-width="0.8"/>
<text x="356.2" y="383.5" font-size="10.4" text-anchor="end" fill="#222" >3/2</text>
<line x1="358.9" y1="394.5" x2="361.5" y2="394.5" stroke="#444" stroke-width="0.8"/>
<text x="356.2" y="399.4" font-size="10.4" text-anchor="end" fill="#222" >2</text>
<line x1="358.9" y1="410.2" x2="361.5" y2="410.2" stroke="#444" stroke-width="0.8"/>
<text x="356.2" y="415.1" font-size="10.4" text-anchor="end" fill="#222" >5/2</text>
<line x1="358.9" y1="426.0" x2="361.5" y2="426.0" stroke="#444" stroke-width="0.8"/>
<text x="356.2" y="430.9" font-size="10.4" text-anchor="end" fill="#222" >3</text>
<line x1="374.6" y1="473" x2="374.6" y2="475.5" stroke="#444" stroke-width="0.8"/>
<text x="374.6" y="489.5" font-size="10" text-anchor="middle" fill="#222" >1.60</text>
<line x1="405.3" y1="473" x2="405.3" y2="475.5" stroke="#444" stroke-width="0.8"/>
<text x="405.3" y="489.5" font-size="10" text-anchor="middle" fill="#222" >1.65</text>
<line x1="436.0" y1="473" x2="436.0" y2="475.5" stroke="#444" stroke-width="0.8"/>
<text x="436.0" y="489.5" font-size="10" text-anchor="middle" fill="#222" >1.70</text>
<line x1="467.5" y1="473" x2="467.5" y2="475.5" stroke="#444" stroke-width="0.8"/>
<text x="414.5" y="508.9" font-size="12.4" text-anchor="middle" fill="#222" >Energy (eV)</text>
<text x="0" y="0" font-size="12" text-anchor="middle" fill="#222" transform="translate(331,402) rotate(-90)"><tspan font-style="italic" font-family="Liberation Serif" font-size="15.5" stroke="#222" stroke-width="0.3">ν</tspan><tspan font-size="8" dy="3">h</tspan></text>
<text x="520.0" y="278.4" font-size="12.3" text-anchor="start" fill="#222" >d(Δ<tspan font-style="italic">R</tspan>/<tspan font-style="italic">R</tspan><tspan font-size="7" dy="2.5">0</tspan><tspan dy="-2.5">)/d</tspan><tspan font-style="italic">V</tspan><tspan font-size="7" dy="2.5">g</tspan><tspan dy="-2.5"> (×10</tspan><tspan font-size="7" dy="-4">3</tspan><tspan dy="4"> V</tspan><tspan font-size="7" dy="-4">−1</tspan><tspan dy="4">)</tspan></text>
<rect x="529.7" y="304.2" width="105.5" height="12.1" fill="url(#grdbu)" stroke="#666" stroke-width="0.7"/>
<line x1="569.6" y1="304.2" x2="569.6" y2="306.2" stroke="#333" stroke-width="0.7"/>
<line x1="611.0" y1="304.2" x2="611.0" y2="306.2" stroke="#333" stroke-width="0.7"/>
<text x="528.6" y="297.7" font-size="10.6" text-anchor="middle" fill="#222" >−5</text>
<text x="569.6" y="297.7" font-size="10.6" text-anchor="middle" fill="#222" >0</text>
<text x="611.0" y="297.7" font-size="10.6" text-anchor="middle" fill="#222" >5</text>
<g clip-path="url(#cpg)">
<rect x="529.1" y="331" width="106" height="143" fill="#c9dced"/>
<rect x="529.1" y="331" width="106" height="143" filter="url(#noise)" opacity="0.9"/>
<path d="M549.8,392 L549.8,474" stroke="url(#tg55)" stroke-width="3" fill="none" opacity="0.85" filter="url(#bl1_0)"/>
<path d="M580.5,362 L580.5,394" stroke="#6aa4d0" stroke-width="10" fill="none" opacity="0.7" stroke-linecap="butt" filter="url(#bl2_2)"/>
<path d="M580,331 L580,362" stroke="#9cc4e0" stroke-width="10" fill="none" opacity="0.6" stroke-linecap="butt" filter="url(#bl2_5)"/>
<path d="M602,331 L602,362" stroke="#9cc4e0" stroke-width="6" fill="none" opacity="0.7" stroke-linecap="butt" filter="url(#bl2_0)"/>
<path d="M579,426 L569,474" stroke="#8fbcdc" stroke-width="12" fill="none" opacity="0.5" stroke-linecap="butt" filter="url(#bl3_0)"/>
<path d="M552.5,392 L552.5,474" stroke="#e4eef6" stroke-width="3" fill="none" opacity="0.6" stroke-linecap="butt" filter="url(#bl1_0)"/>
<path d="M557.5,331 L554.5,363" stroke="url(#tg56)" stroke-width="13" fill="none" opacity="0.55" filter="url(#bl2_0)"/>
<path d="M557,331 L554,363" stroke="url(#tg57)" stroke-width="8.5" fill="none" opacity="1.0" filter="url(#bl1_2)"/>
<path d="M556,341 L553.5,362" stroke="url(#tg58)" stroke-width="7" fill="none" opacity="1.0" filter="url(#bl1_0)"/>
<path d="M555.5,345 L553.8,361" stroke="url(#tg59)" stroke-width="5" fill="none" opacity="1.0" filter="url(#bl0_8)"/>
<path d="M545.5,342 L549,362" stroke="url(#tg60)" stroke-width="6.5" fill="none" opacity="0.9" filter="url(#bl1_4)"/>
<path d="M546.8,347 L548.8,362" stroke="url(#tg61)" stroke-width="4.5" fill="none" opacity="1.0" filter="url(#bl1_0)"/>
<path d="M547.8,352 L548.8,362" stroke="url(#tg62)" stroke-width="3" fill="none" opacity="1.0" filter="url(#bl0_8)"/>
<path d="M565.5,331 L567,362" stroke="url(#tg63)" stroke-width="5.5" fill="none" opacity="0.95" filter="url(#bl1_2)"/>
<path d="M595,362 L589.5,394" stroke="url(#tg64)" stroke-width="12" fill="none" opacity="0.55" filter="url(#bl2_2)"/>
<path d="M595.5,362 L594.3,375" stroke="url(#tg65)" stroke-width="9.5" fill="none" opacity="1.0" filter="url(#bl1_0)"/>
<path d="M595.3,362 L594.5,372" stroke="url(#tg66)" stroke-width="7" fill="none" opacity="1.0" filter="url(#bl0_8)"/>
<path d="M594.5,366 L590,394" stroke="url(#tg67)" stroke-width="6.5" fill="none" opacity="1.0" filter="url(#bl1_2)"/>
<path d="M603.5,362 L609,381" stroke="url(#tg68)" stroke-width="10" fill="none" opacity="1.0" filter="url(#bl1_8)"/>
<path d="M604,362 L606.5,375" stroke="url(#tg69)" stroke-width="8.5" fill="none" opacity="1.0" filter="url(#bl1_2)"/>
<path d="M604,362 L606.5,373" stroke="url(#tg70)" stroke-width="7" fill="none" opacity="1.0" filter="url(#bl0_9)"/>
<ellipse cx="549.3" cy="367" rx="2.2" ry="3.8" fill="#06295c" opacity="1.0" transform="rotate(0 549.3 367)" filter="url(#bl1_0)"/>
<ellipse cx="554" cy="365.5" rx="1.8" ry="2" fill="#f4b09a" opacity="1.0" transform="rotate(0 554 365.5)" filter="url(#bl1_0)"/>
<ellipse cx="549.3" cy="390" rx="1.8" ry="3.8" fill="#d05048" opacity="1.0" transform="rotate(0 549.3 390)" filter="url(#bl1_0)"/>
<path d="M591.5,383 L592,394" stroke="url(#tg71)" stroke-width="3.8" fill="none" opacity="1.0" filter="url(#bl1_0)"/>
<path d="M590.5,395 L584.3,426" stroke="url(#tg72)" stroke-width="12" fill="none" opacity="0.5" filter="url(#bl2_2)"/>
<path d="M590.5,395 L585,424" stroke="url(#tg73)" stroke-width="8.5" fill="none" opacity="1.0" filter="url(#bl1_2)"/>
<path d="M590.5,395 L586.5,416" stroke="url(#tg74)" stroke-width="7" fill="none" opacity="1.0" filter="url(#bl1_0)"/>
<path d="M595.5,395 L604,413" stroke="url(#tg75)" stroke-width="7" fill="none" opacity="1.0" filter="url(#bl1_6)"/>
<path d="M595.5,395 L601.5,408" stroke="url(#tg76)" stroke-width="5.2" fill="none" opacity="1.0" filter="url(#bl1_1)"/>
<path d="M596,395 L599.5,403" stroke="url(#tg77)" stroke-width="4.2" fill="none" opacity="1.0" filter="url(#bl0_9)"/>
<path d="M585.4,427 L592.5,447" stroke="url(#tg78)" stroke-width="6.5" fill="none" opacity="0.95" filter="url(#bl1_6)"/>
<path d="M585.8,427 L590.3,441" stroke="url(#tg79)" stroke-width="5" fill="none" opacity="1.0" filter="url(#bl1_2)"/>
<path d="M585.8,427 L588.5,435" stroke="url(#tg80)" stroke-width="3.5" fill="none" opacity="1.0" filter="url(#bl0_9)"/>
<line x1="529.6" y1="342.1" x2="609.1" y2="342.1" stroke="#3a3a3a" stroke-width="1.7" stroke-dasharray="6,6.3"/>
<line x1="529.6" y1="352.5" x2="609.1" y2="352.5" stroke="#3a3a3a" stroke-width="1.7" stroke-dasharray="6,6.3"/>
<line x1="529.6" y1="373.7" x2="609.1" y2="373.7" stroke="#3a3a3a" stroke-width="1.7" stroke-dasharray="6,6.3"/>
<line x1="529.6" y1="384.2" x2="609.1" y2="384.2" stroke="#3a3a3a" stroke-width="1.7" stroke-dasharray="6,6.3"/>
<line x1="529.6" y1="404.9" x2="609.1" y2="404.9" stroke="#3a3a3a" stroke-width="1.7" stroke-dasharray="6,6.3"/>
<line x1="529.6" y1="415.5" x2="609.1" y2="415.5" stroke="#3a3a3a" stroke-width="1.7" stroke-dasharray="6,6.3"/>
<line x1="529.1" y1="347.3" x2="635.1" y2="347.3" stroke="#2a2a2a" stroke-width="1.8" stroke-dasharray="1.6,1.4"/>
<line x1="529.1" y1="378.6" x2="635.1" y2="378.6" stroke="#2a2a2a" stroke-width="1.8" stroke-dasharray="1.6,1.4"/>
<line x1="529.1" y1="410.2" x2="635.1" y2="410.2" stroke="#2a2a2a" stroke-width="1.8" stroke-dasharray="1.6,1.4"/>
<line x1="529.1" y1="362.7" x2="635.1" y2="362.7" stroke="#333" stroke-width="1.6"/>
<line x1="529.1" y1="394.5" x2="635.1" y2="394.5" stroke="#333" stroke-width="1.6"/>
<line x1="529.1" y1="426.0" x2="635.1" y2="426.0" stroke="#333" stroke-width="1.6"/>
</g>
<rect x="529.1" y="331.2" width="106" height="141.8" fill="none" stroke="#555" stroke-width="0.8"/>
<text x="632.1" y="345.7" font-size="10" text-anchor="end" fill="#222" >1/3</text>
<text x="632.1" y="356.1" font-size="10" text-anchor="end" fill="#222" >2/3</text>
<text x="632.1" y="377.3" font-size="10" text-anchor="end" fill="#222" >4/3</text>
<text x="632.1" y="387.8" font-size="10" text-anchor="end" fill="#222" >5/3</text>
<text x="632.1" y="408.5" font-size="10" text-anchor="end" fill="#222" >7/3</text>
<text x="632.1" y="419.1" font-size="10" text-anchor="end" fill="#222" >8/3</text>
<line x1="526.5" y1="331.2" x2="529.1" y2="331.2" stroke="#444" stroke-width="0.8"/>
<text x="523.8" y="336.1" font-size="10.4" text-anchor="end" fill="#222" >0</text>
<line x1="526.5" y1="347.3" x2="529.1" y2="347.3" stroke="#444" stroke-width="0.8"/>
<text x="523.8" y="352.2" font-size="10.4" text-anchor="end" fill="#222" >1/2</text>
<line x1="526.5" y1="362.7" x2="529.1" y2="362.7" stroke="#444" stroke-width="0.8"/>
<text x="523.8" y="367.6" font-size="10.4" text-anchor="end" fill="#222" >1</text>
<line x1="526.5" y1="378.6" x2="529.1" y2="378.6" stroke="#444" stroke-width="0.8"/>
<text x="523.8" y="383.5" font-size="10.4" text-anchor="end" fill="#222" >3/2</text>
<line x1="526.5" y1="394.5" x2="529.1" y2="394.5" stroke="#444" stroke-width="0.8"/>
<text x="523.8" y="399.4" font-size="10.4" text-anchor="end" fill="#222" >2</text>
<line x1="526.5" y1="410.2" x2="529.1" y2="410.2" stroke="#444" stroke-width="0.8"/>
<text x="523.8" y="415.1" font-size="10.4" text-anchor="end" fill="#222" >5/2</text>
<line x1="526.5" y1="426.0" x2="529.1" y2="426.0" stroke="#444" stroke-width="0.8"/>
<text x="523.8" y="430.9" font-size="10.4" text-anchor="end" fill="#222" >3</text>
<line x1="542.2" y1="473" x2="542.2" y2="475.5" stroke="#444" stroke-width="0.8"/>
<text x="542.2" y="489.5" font-size="10" text-anchor="middle" fill="#222" >1.60</text>
<line x1="572.9" y1="473" x2="572.9" y2="475.5" stroke="#444" stroke-width="0.8"/>
<text x="572.9" y="489.5" font-size="10" text-anchor="middle" fill="#222" >1.65</text>
<line x1="603.6" y1="473" x2="603.6" y2="475.5" stroke="#444" stroke-width="0.8"/>
<text x="603.6" y="489.5" font-size="10" text-anchor="middle" fill="#222" >1.70</text>
<line x1="635.1" y1="473" x2="635.1" y2="475.5" stroke="#444" stroke-width="0.8"/>
<text x="582.1" y="508.9" font-size="12.4" text-anchor="middle" fill="#222" >Energy (eV)</text>
<text x="0" y="0" font-size="12" text-anchor="middle" fill="#222" transform="translate(499,402) rotate(-90)"><tspan font-style="italic" font-family="Liberation Serif" font-size="15.5" stroke="#222" stroke-width="0.3">ν</tspan><tspan font-size="8" dy="3">h</tspan></text>
<line x1="647.2" y1="337" x2="647.2" y2="357" stroke="#f010e0" stroke-width="1.6" stroke-dasharray="1.8,1.8"/>
<line x1="658" y1="367.5" x2="658" y2="389" stroke="#8a20b8" stroke-width="1.1" stroke-dasharray="1.5,1.5"/>
<line x1="660" y1="391.5" x2="671.5" y2="382" stroke="#ff1010" stroke-width="1.1" stroke-dasharray="1.5,1.5"/>
<line x1="670" y1="399.5" x2="670" y2="421" stroke="#ff1010" stroke-width="1.1" stroke-dasharray="1.5,1.5"/>
<rect x="642.2" y="326.3" width="10" height="10.2" fill="#fff" stroke="#111" stroke-width="1.2"/>
<rect x="652.2" y="326.3" width="10" height="10.2" fill="#fff" stroke="#111" stroke-width="1.2"/>
<rect x="665.0" y="326.3" width="15.8" height="10.2" fill="#fff" stroke="#111" stroke-width="1.2"/>
<circle cx="647.2" cy="331.40000000000003" r="3.2" fill="none" stroke="#f010e0" stroke-width="0.8"/>
<circle cx="657.2" cy="331.40000000000003" r="3.2" fill="none" stroke="#8a20b8" stroke-width="0.8"/>
<circle cx="669.4" cy="331.40000000000003" r="3.3" fill="none" stroke="#ff1010" stroke-width="0.8"/>
<circle cx="676.4" cy="331.40000000000003" r="3.3" fill="none" stroke="#ff1010" stroke-width="0.8"/>
<rect x="642.2" y="357.2" width="10" height="10.2" fill="#fff" stroke="#111" stroke-width="1.2"/>
<rect x="652.2" y="357.2" width="10" height="10.2" fill="#fff" stroke="#111" stroke-width="1.2"/>
<rect x="665.0" y="357.2" width="15.8" height="10.2" fill="#fff" stroke="#111" stroke-width="1.2"/>
<circle cx="647.2" cy="362.3" r="3.2" fill="#f010e0"/>
<circle cx="657.2" cy="362.3" r="3.2" fill="none" stroke="#8a20b8" stroke-width="0.8"/>
<circle cx="669.4" cy="362.3" r="3.3" fill="none" stroke="#ff1010" stroke-width="0.8"/>
<circle cx="676.4" cy="362.3" r="3.3" fill="none" stroke="#ff1010" stroke-width="0.8"/>
<rect x="645.5" y="372.3" width="10" height="10.2" fill="#fff" stroke="#111" stroke-width="1.2"/>
<rect x="655.5" y="372.3" width="10" height="10.2" fill="#fff" stroke="#111" stroke-width="1.2"/>
<rect x="668.9" y="372.3" width="15.8" height="10.2" fill="#fff" stroke="#111" stroke-width="1.2"/>
<circle cx="650.5" cy="377.40000000000003" r="3.2" fill="#f010e0"/>
<circle cx="660.5" cy="377.40000000000003" r="3.2" fill="#fff" stroke="#8a20b8" stroke-width="0.8"/>
<path d="M660.5,374.20000000000005 A3.2,3.2 0 0 0 660.5,380.6 z" fill="#8a20b8"/>
<circle cx="673.3" cy="377.40000000000003" r="3.3" fill="#ff1010"/>
<circle cx="680.3" cy="377.40000000000003" r="3.3" fill="none" stroke="#ff1010" stroke-width="0.8"/>
<rect x="642.6" y="388.4" width="10" height="10.2" fill="#fff" stroke="#111" stroke-width="1.2"/>
<rect x="652.6" y="388.4" width="10" height="10.2" fill="#fff" stroke="#111" stroke-width="1.2"/>
<rect x="665.3" y="388.4" width="15.8" height="10.2" fill="#fff" stroke="#111" stroke-width="1.2"/>
<circle cx="647.6" cy="393.5" r="3.2" fill="#f010e0"/>
<circle cx="657.6" cy="393.5" r="3.2" fill="#8a20b8"/>
<circle cx="669.6999999999999" cy="393.5" r="3.3" fill="none" stroke="#ff1010" stroke-width="0.8"/>
<circle cx="676.6999999999999" cy="393.5" r="3.3" fill="none" stroke="#ff1010" stroke-width="0.8"/>
<rect x="642.6" y="422.0" width="10" height="10.2" fill="#fff" stroke="#111" stroke-width="1.2"/>
<rect x="652.6" y="422.0" width="10" height="10.2" fill="#fff" stroke="#111" stroke-width="1.2"/>
<rect x="665.3" y="422.0" width="15.8" height="10.2" fill="#fff" stroke="#111" stroke-width="1.2"/>
<circle cx="647.6" cy="427.1" r="3.2" fill="#f010e0"/>
<circle cx="657.6" cy="427.1" r="3.2" fill="#8a20b8"/>
<circle cx="669.6999999999999" cy="427.1" r="3.3" fill="#ff1010"/>
<circle cx="676.6999999999999" cy="427.1" r="3.3" fill="none" stroke="#ff1010" stroke-width="0.8"/>
<text x="646.8" y="311.3" font-size="12" fill="#222"><tspan font-style="italic" font-family="Liberation Serif" font-size="14" stroke="#222" stroke-width="0.3">ν</tspan><tspan font-size="7" dy="2.5">Γ</tspan></text>
<text x="666.3" y="317.6" font-size="12" fill="#222"><tspan font-style="italic" font-family="Liberation Serif" font-size="14" stroke="#222" stroke-width="0.3">ν</tspan><tspan font-size="7" dy="2.5">K</tspan></text>
<text x="643.8" y="324.3" font-size="10.5" text-anchor="start" fill="#f010e0" >A</text>
<text x="653.8" y="324.3" font-size="10.5" text-anchor="start" fill="#8a20b8" >B</text>
<defs><linearGradient id="tg1" gradientUnits="userSpaceOnUse" x1="632" y1="0" x2="670" y2="0"><stop offset="0" stop-color="#3a5cf0" stop-opacity="0"/><stop offset="0.263" stop-color="#3a5cf0"/><stop offset="0.974" stop-color="#3a5cf0"/><stop offset="1" stop-color="#3a5cf0" stop-opacity="0"/></linearGradient><linearGradient id="tg2" gradientUnits="userSpaceOnUse" x1="500" y1="0" x2="640" y2="0"><stop offset="0" stop-color="#1ca4e0" stop-opacity="0"/><stop offset="0.007" stop-color="#1ca4e0"/><stop offset="0.929" stop-color="#1ca4e0"/><stop offset="1" stop-color="#1ca4e0" stop-opacity="0"/></linearGradient><linearGradient id="tg3" gradientUnits="userSpaceOnUse" x1="500" y1="0" x2="634" y2="0"><stop offset="0" stop-color="#7cc670" stop-opacity="0"/><stop offset="0.007" stop-color="#7cc670"/><stop offset="0.955" stop-color="#7cc670"/><stop offset="1" stop-color="#7cc670" stop-opacity="0"/></linearGradient><linearGradient id="tg4" gradientUnits="userSpaceOnUse" x1="500" y1="0" x2="632" y2="0"><stop offset="0" stop-color="#f0b040" stop-opacity="0"/><stop offset="0.008" stop-color="#f0b040"/><stop offset="0.970" stop-color="#f0b040"/><stop offset="1" stop-color="#f0b040" stop-opacity="0"/></linearGradient><linearGradient id="tg5" gradientUnits="userSpaceOnUse" x1="500" y1="0" x2="629" y2="0"><stop offset="0" stop-color="#f8f018" stop-opacity="0"/><stop offset="0.008" stop-color="#f8f018"/><stop offset="0.953" stop-color="#f8f018"/><stop offset="1" stop-color="#f8f018" stop-opacity="0"/></linearGradient><linearGradient id="tg6" gradientUnits="userSpaceOnUse" x1="0" y1="320" x2="0" y2="474"><stop offset="0" stop-color="#1ca4e0" stop-opacity="0"/><stop offset="0.006" stop-color="#1ca4e0"/><stop offset="0.351" stop-color="#1ca4e0"/><stop offset="1" stop-color="#1ca4e0" stop-opacity="0"/></linearGradient><linearGradient id="tg7" gradientUnits="userSpaceOnUse" x1="0" y1="331" x2="0" y2="474"><stop offset="0" stop-color="#2a8cf0" stop-opacity="0"/><stop offset="0.007" stop-color="#2a8cf0"/><stop offset="0.510" stop-color="#2a8cf0"/><stop offset="1" stop-color="#2a8cf0" stop-opacity="0"/></linearGradient><linearGradient id="tg8" gradientUnits="userSpaceOnUse" x1="0" y1="331" x2="0" y2="474"><stop offset="0" stop-color="#12acd8" stop-opacity="0"/><stop offset="0.007" stop-color="#12acd8"/><stop offset="0.371" stop-color="#12acd8"/><stop offset="1" stop-color="#12acd8" stop-opacity="0"/></linearGradient><linearGradient id="tg9" gradientUnits="userSpaceOnUse" x1="0" y1="345" x2="0" y2="474"><stop offset="0" stop-color="#2a80f0" stop-opacity="0"/><stop offset="0.233" stop-color="#2a80f0"/><stop offset="0.992" stop-color="#2a80f0"/><stop offset="1" stop-color="#2a80f0" stop-opacity="0"/></linearGradient><linearGradient id="tg10" gradientUnits="userSpaceOnUse" x1="0" y1="380" x2="0" y2="474"><stop offset="0" stop-color="#2a80f0" stop-opacity="0"/><stop offset="0.213" stop-color="#2a80f0"/><stop offset="0.989" stop-color="#2a80f0"/><stop offset="1" stop-color="#2a80f0" stop-opacity="0"/></linearGradient><linearGradient id="tg11" gradientUnits="userSpaceOnUse" x1="0" y1="420" x2="0" y2="474"><stop offset="0" stop-color="#2a80f0" stop-opacity="0"/><stop offset="0.278" stop-color="#2a80f0"/><stop offset="0.981" stop-color="#2a80f0"/><stop offset="1" stop-color="#2a80f0" stop-opacity="0"/></linearGradient><linearGradient id="tg12" gradientUnits="userSpaceOnUse" x1="0" y1="300" x2="0" y2="377.0"><stop offset="0" stop-color="#2a7cf0" stop-opacity="0"/><stop offset="0.013" stop-color="#2a7cf0"/><stop offset="0.896" stop-color="#2a7cf0"/><stop offset="1" stop-color="#2a7cf0" stop-opacity="0"/></linearGradient><linearGradient id="tg13" gradientUnits="userSpaceOnUse" x1="0" y1="300" x2="0" y2="375.5"><stop offset="0" stop-color="#18a8d8" stop-opacity="0"/><stop offset="0.013" stop-color="#18a8d8"/><stop offset="0.894" stop-color="#18a8d8"/><stop offset="1" stop-color="#18a8d8" stop-opacity="0"/></linearGradient><linearGradient id="tg14" gradientUnits="userSpaceOnUse" x1="0" y1="300" x2="0" y2="374.0"><stop offset="0" stop-color="#80c870" stop-opacity="0"/><stop offset="0.014" stop-color="#80c870"/><stop offset="0.892" stop-color="#80c870"/><stop offset="1" stop-color="#80c870" stop-opacity="0"/></linearGradient><linearGradient id="tg15" gradientUnits="userSpaceOnUse" x1="0" y1="300" x2="0" y2="372.5"><stop offset="0" stop-color="#f0b838" stop-opacity="0"/><stop offset="0.014" stop-color="#f0b838"/><stop offset="0.890" stop-color="#f0b838"/><stop offset="1" stop-color="#f0b838" stop-opacity="0"/></linearGradient><linearGradient id="tg16" gradientUnits="userSpaceOnUse" x1="0" y1="300" x2="0" y2="370.25"><stop offset="0" stop-color="#f8f018" stop-opacity="0"/><stop offset="0.014" stop-color="#f8f018"/><stop offset="0.886" stop-color="#f8f018"/><stop offset="1" stop-color="#f8f018" stop-opacity="0"/></linearGradient><linearGradient id="tg17" gradientUnits="userSpaceOnUse" x1="0" y1="372" x2="0" y2="404"><stop offset="0" stop-color="#2a8cf0" stop-opacity="0"/><stop offset="0.094" stop-color="#2a8cf0"/><stop offset="0.625" stop-color="#2a8cf0"/><stop offset="1" stop-color="#2a8cf0" stop-opacity="0"/></linearGradient><linearGradient id="tg18" gradientUnits="userSpaceOnUse" x1="0" y1="372" x2="0" y2="422"><stop offset="0" stop-color="#2a7cf0" stop-opacity="0"/><stop offset="0.120" stop-color="#2a7cf0"/><stop offset="0.840" stop-color="#2a7cf0"/><stop offset="1" stop-color="#2a7cf0" stop-opacity="0"/></linearGradient><linearGradient id="tg19" gradientUnits="userSpaceOnUse" x1="0" y1="372" x2="0" y2="422"><stop offset="0" stop-color="#18a8d8" stop-opacity="0"/><stop offset="0.120" stop-color="#18a8d8"/><stop offset="0.820" stop-color="#18a8d8"/><stop offset="1" stop-color="#18a8d8" stop-opacity="0"/></linearGradient><linearGradient id="tg20" gradientUnits="userSpaceOnUse" x1="0" y1="378" x2="0" y2="414"><stop offset="0" stop-color="#80c870" stop-opacity="0"/><stop offset="0.167" stop-color="#80c870"/><stop offset="0.806" stop-color="#80c870"/><stop offset="1" stop-color="#80c870" stop-opacity="0"/></linearGradient><linearGradient id="tg21" gradientUnits="userSpaceOnUse" x1="0" y1="320" x2="0" y2="474"><stop offset="0" stop-color="#1ca4e0" stop-opacity="0"/><stop offset="0.006" stop-color="#1ca4e0"/><stop offset="0.351" stop-color="#1ca4e0"/><stop offset="1" stop-color="#1ca4e0" stop-opacity="0"/></linearGradient><linearGradient id="tg22" gradientUnits="userSpaceOnUse" x1="0" y1="320" x2="0" y2="380"><stop offset="0" stop-color="#12acd8" stop-opacity="0"/><stop offset="0.017" stop-color="#12acd8"/><stop offset="0.667" stop-color="#12acd8"/><stop offset="1" stop-color="#12acd8" stop-opacity="0"/></linearGradient><linearGradient id="tg23" gradientUnits="userSpaceOnUse" x1="0" y1="300" x2="0" y2="370.0"><stop offset="0" stop-color="#2a7cf0" stop-opacity="0"/><stop offset="0.014" stop-color="#2a7cf0"/><stop offset="0.886" stop-color="#2a7cf0"/><stop offset="1" stop-color="#2a7cf0" stop-opacity="0"/></linearGradient><linearGradient id="tg24" gradientUnits="userSpaceOnUse" x1="0" y1="300" x2="0" y2="368.5"><stop offset="0" stop-color="#18a8d8" stop-opacity="0"/><stop offset="0.015" stop-color="#18a8d8"/><stop offset="0.883" stop-color="#18a8d8"/><stop offset="1" stop-color="#18a8d8" stop-opacity="0"/></linearGradient><linearGradient id="tg25" gradientUnits="userSpaceOnUse" x1="0" y1="300" x2="0" y2="367.0"><stop offset="0" stop-color="#80c870" stop-opacity="0"/><stop offset="0.015" stop-color="#80c870"/><stop offset="0.881" stop-color="#80c870"/><stop offset="1" stop-color="#80c870" stop-opacity="0"/></linearGradient><linearGradient id="tg26" gradientUnits="userSpaceOnUse" x1="0" y1="300" x2="0" y2="365.5"><stop offset="0" stop-color="#f0b838" stop-opacity="0"/><stop offset="0.015" stop-color="#f0b838"/><stop offset="0.878" stop-color="#f0b838"/><stop offset="1" stop-color="#f0b838" stop-opacity="0"/></linearGradient><linearGradient id="tg27" gradientUnits="userSpaceOnUse" x1="0" y1="300" x2="0" y2="363.25"><stop offset="0" stop-color="#f8f018" stop-opacity="0"/><stop offset="0.016" stop-color="#f8f018"/><stop offset="0.874" stop-color="#f8f018"/><stop offset="1" stop-color="#f8f018" stop-opacity="0"/></linearGradient><linearGradient id="tg28" gradientUnits="userSpaceOnUse" x1="0" y1="366" x2="0" y2="386"><stop offset="0" stop-color="#2a8cf0" stop-opacity="0"/><stop offset="0.150" stop-color="#2a8cf0"/><stop offset="0.500" stop-color="#2a8cf0"/><stop offset="1" stop-color="#2a8cf0" stop-opacity="0"/></linearGradient><linearGradient id="tg29" gradientUnits="userSpaceOnUse" x1="0" y1="363" x2="0" y2="474"><stop offset="0" stop-color="#2a7cf0" stop-opacity="0"/><stop offset="0.054" stop-color="#2a7cf0"/><stop offset="0.730" stop-color="#2a7cf0"/><stop offset="1" stop-color="#2a7cf0" stop-opacity="0"/></linearGradient><linearGradient id="tg30" gradientUnits="userSpaceOnUse" x1="0" y1="363" x2="0" y2="474"><stop offset="0" stop-color="#18a8d8" stop-opacity="0"/><stop offset="0.054" stop-color="#18a8d8"/><stop offset="0.685" stop-color="#18a8d8"/><stop offset="1" stop-color="#18a8d8" stop-opacity="0"/></linearGradient><linearGradient id="tg31" gradientUnits="userSpaceOnUse" x1="0" y1="368" x2="0" y2="436"><stop offset="0" stop-color="#80c870" stop-opacity="0"/><stop offset="0.088" stop-color="#80c870"/><stop offset="0.912" stop-color="#80c870"/><stop offset="1" stop-color="#80c870" stop-opacity="0"/></linearGradient><linearGradient id="tg32" gradientUnits="userSpaceOnUse" x1="0" y1="420" x2="0" y2="474"><stop offset="0" stop-color="#7fb2d8" stop-opacity="0"/><stop offset="0.111" stop-color="#7fb2d8"/><stop offset="0.981" stop-color="#7fb2d8"/><stop offset="1" stop-color="#7fb2d8" stop-opacity="0"/></linearGradient><linearGradient id="tg33" gradientUnits="userSpaceOnUse" x1="0" y1="331" x2="0" y2="363"><stop offset="0" stop-color="#5a98c8" stop-opacity="0"/><stop offset="0.031" stop-color="#5a98c8"/><stop offset="0.969" stop-color="#5a98c8"/><stop offset="1" stop-color="#5a98c8" stop-opacity="0"/></linearGradient><linearGradient id="tg34" gradientUnits="userSpaceOnUse" x1="0" y1="331" x2="0" y2="363"><stop offset="0" stop-color="#2a6eb4" stop-opacity="0"/><stop offset="0.125" stop-color="#2a6eb4"/><stop offset="0.969" stop-color="#2a6eb4"/><stop offset="1" stop-color="#2a6eb4" stop-opacity="0"/></linearGradient><linearGradient id="tg35" gradientUnits="userSpaceOnUse" x1="0" y1="340" x2="0" y2="362"><stop offset="0" stop-color="#06295c" stop-opacity="0"/><stop offset="0.364" stop-color="#06295c"/><stop offset="0.955" stop-color="#06295c"/><stop offset="1" stop-color="#06295c" stop-opacity="0"/></linearGradient><linearGradient id="tg36" gradientUnits="userSpaceOnUse" x1="0" y1="336" x2="0" y2="362"><stop offset="0" stop-color="#f4b09a" stop-opacity="0"/><stop offset="0.308" stop-color="#f4b09a"/><stop offset="0.962" stop-color="#f4b09a"/><stop offset="1" stop-color="#f4b09a" stop-opacity="0"/></linearGradient><linearGradient id="tg37" gradientUnits="userSpaceOnUse" x1="0" y1="348" x2="0" y2="362"><stop offset="0" stop-color="#d05048" stop-opacity="0"/><stop offset="0.500" stop-color="#d05048"/><stop offset="0.929" stop-color="#d05048"/><stop offset="1" stop-color="#d05048" stop-opacity="0"/></linearGradient><linearGradient id="tg38" gradientUnits="userSpaceOnUse" x1="0" y1="331" x2="0" y2="362"><stop offset="0" stop-color="#f4b09a" stop-opacity="0"/><stop offset="0.097" stop-color="#f4b09a"/><stop offset="0.968" stop-color="#f4b09a"/><stop offset="1" stop-color="#f4b09a" stop-opacity="0"/></linearGradient><linearGradient id="tg39" gradientUnits="userSpaceOnUse" x1="0" y1="348" x2="0" y2="361"><stop offset="0" stop-color="#d05048" stop-opacity="0"/><stop offset="0.385" stop-color="#d05048"/><stop offset="0.846" stop-color="#d05048"/><stop offset="1" stop-color="#d05048" stop-opacity="0"/></linearGradient><linearGradient id="tg40" gradientUnits="userSpaceOnUse" x1="0" y1="331" x2="0" y2="343"><stop offset="0" stop-color="#f4b09a" stop-opacity="0"/><stop offset="0.083" stop-color="#f4b09a"/><stop offset="0.500" stop-color="#f4b09a"/><stop offset="1" stop-color="#f4b09a" stop-opacity="0"/></linearGradient><linearGradient id="tg41" gradientUnits="userSpaceOnUse" x1="0" y1="362" x2="0" y2="394"><stop offset="0" stop-color="#5a98c8" stop-opacity="0"/><stop offset="0.188" stop-color="#5a98c8"/><stop offset="0.969" stop-color="#5a98c8"/><stop offset="1" stop-color="#5a98c8" stop-opacity="0"/></linearGradient><linearGradient id="tg42" gradientUnits="userSpaceOnUse" x1="0" y1="364" x2="0" y2="394"><stop offset="0" stop-color="#2a6eb4" stop-opacity="0"/><stop offset="0.200" stop-color="#2a6eb4"/><stop offset="0.967" stop-color="#2a6eb4"/><stop offset="1" stop-color="#2a6eb4" stop-opacity="0"/></linearGradient><linearGradient id="tg43" gradientUnits="userSpaceOnUse" x1="0" y1="368" x2="0" y2="394"><stop offset="0" stop-color="#06295c" stop-opacity="0"/><stop offset="0.308" stop-color="#06295c"/><stop offset="0.962" stop-color="#06295c"/><stop offset="1" stop-color="#06295c" stop-opacity="0"/></linearGradient><linearGradient id="tg44" gradientUnits="userSpaceOnUse" x1="0" y1="375" x2="0" y2="393"><stop offset="0" stop-color="#06295c" stop-opacity="0"/><stop offset="0.278" stop-color="#06295c"/><stop offset="0.944" stop-color="#06295c"/><stop offset="1" stop-color="#06295c" stop-opacity="0"/></linearGradient><linearGradient id="tg45" gradientUnits="userSpaceOnUse" x1="0" y1="370" x2="0" y2="394"><stop offset="0" stop-color="#f0c8b8" stop-opacity="0"/><stop offset="0.250" stop-color="#f0c8b8"/><stop offset="0.875" stop-color="#f0c8b8"/><stop offset="1" stop-color="#f0c8b8" stop-opacity="0"/></linearGradient><linearGradient id="tg46" gradientUnits="userSpaceOnUse" x1="0" y1="362" x2="0" y2="393"><stop offset="0" stop-color="#f4b09a" stop-opacity="0"/><stop offset="0.032" stop-color="#f4b09a"/><stop offset="0.742" stop-color="#f4b09a"/><stop offset="1" stop-color="#f4b09a" stop-opacity="0"/></linearGradient><linearGradient id="tg47" gradientUnits="userSpaceOnUse" x1="0" y1="362" x2="0" y2="387"><stop offset="0" stop-color="#d05048" stop-opacity="0"/><stop offset="0.040" stop-color="#d05048"/><stop offset="0.680" stop-color="#d05048"/><stop offset="1" stop-color="#d05048" stop-opacity="0"/></linearGradient><linearGradient id="tg48" gradientUnits="userSpaceOnUse" x1="0" y1="362" x2="0" y2="383"><stop offset="0" stop-color="#900c24" stop-opacity="0"/><stop offset="0.048" stop-color="#900c24"/><stop offset="0.714" stop-color="#900c24"/><stop offset="1" stop-color="#900c24" stop-opacity="0"/></linearGradient><linearGradient id="tg49" gradientUnits="userSpaceOnUse" x1="0" y1="362" x2="0" y2="376"><stop offset="0" stop-color="#900c24" stop-opacity="0"/><stop offset="0.071" stop-color="#900c24"/><stop offset="0.714" stop-color="#900c24"/><stop offset="1" stop-color="#900c24" stop-opacity="0"/></linearGradient><linearGradient id="tg50" gradientUnits="userSpaceOnUse" x1="0" y1="395" x2="0" y2="422"><stop offset="0" stop-color="#5a98c8" stop-opacity="0"/><stop offset="0.037" stop-color="#5a98c8"/><stop offset="0.704" stop-color="#5a98c8"/><stop offset="1" stop-color="#5a98c8" stop-opacity="0"/></linearGradient><linearGradient id="tg51" gradientUnits="userSpaceOnUse" x1="0" y1="395" x2="0" y2="426"><stop offset="0" stop-color="#f4b09a" stop-opacity="0"/><stop offset="0.032" stop-color="#f4b09a"/><stop offset="0.806" stop-color="#f4b09a"/><stop offset="1" stop-color="#f4b09a" stop-opacity="0"/></linearGradient><linearGradient id="tg52" gradientUnits="userSpaceOnUse" x1="0" y1="395" x2="0" y2="418"><stop offset="0" stop-color="#d05048" stop-opacity="0"/><stop offset="0.043" stop-color="#d05048"/><stop offset="0.739" stop-color="#d05048"/><stop offset="1" stop-color="#d05048" stop-opacity="0"/></linearGradient><linearGradient id="tg53" gradientUnits="userSpaceOnUse" x1="0" y1="395" x2="0" y2="413"><stop offset="0" stop-color="#900c24" stop-opacity="0"/><stop offset="0.056" stop-color="#900c24"/><stop offset="0.778" stop-color="#900c24"/><stop offset="1" stop-color="#900c24" stop-opacity="0"/></linearGradient><linearGradient id="tg54" gradientUnits="userSpaceOnUse" x1="0" y1="395" x2="0" y2="409"><stop offset="0" stop-color="#900c24" stop-opacity="0"/><stop offset="0.071" stop-color="#900c24"/><stop offset="0.786" stop-color="#900c24"/><stop offset="1" stop-color="#900c24" stop-opacity="0"/></linearGradient><linearGradient id="tg55" gradientUnits="userSpaceOnUse" x1="0" y1="392" x2="0" y2="474"><stop offset="0" stop-color="#7fb2d8" stop-opacity="0"/><stop offset="0.049" stop-color="#7fb2d8"/><stop offset="0.988" stop-color="#7fb2d8"/><stop offset="1" stop-color="#7fb2d8" stop-opacity="0"/></linearGradient><linearGradient id="tg56" gradientUnits="userSpaceOnUse" x1="0" y1="331" x2="0" y2="363"><stop offset="0" stop-color="#5a98c8" stop-opacity="0"/><stop offset="0.031" stop-color="#5a98c8"/><stop offset="0.969" stop-color="#5a98c8"/><stop offset="1" stop-color="#5a98c8" stop-opacity="0"/></linearGradient><linearGradient id="tg57" gradientUnits="userSpaceOnUse" x1="0" y1="331" x2="0" y2="363"><stop offset="0" stop-color="#2a6eb4" stop-opacity="0"/><stop offset="0.094" stop-color="#2a6eb4"/><stop offset="0.969" stop-color="#2a6eb4"/><stop offset="1" stop-color="#2a6eb4" stop-opacity="0"/></linearGradient><linearGradient id="tg58" gradientUnits="userSpaceOnUse" x1="0" y1="341" x2="0" y2="362"><stop offset="0" stop-color="#06295c" stop-opacity="0"/><stop offset="0.381" stop-color="#06295c"/><stop offset="0.952" stop-color="#06295c"/><stop offset="1" stop-color="#06295c" stop-opacity="0"/></linearGradient><linearGradient id="tg59" gradientUnits="userSpaceOnUse" x1="0" y1="345" x2="0" y2="361"><stop offset="0" stop-color="#06295c" stop-opacity="0"/><stop offset="0.312" stop-color="#06295c"/><stop offset="0.938" stop-color="#06295c"/><stop offset="1" stop-color="#06295c" stop-opacity="0"/></linearGradient><linearGradient id="tg60" gradientUnits="userSpaceOnUse" x1="0" y1="342" x2="0" y2="362"><stop offset="0" stop-color="#f4b09a" stop-opacity="0"/><stop offset="0.400" stop-color="#f4b09a"/><stop offset="0.950" stop-color="#f4b09a"/><stop offset="1" stop-color="#f4b09a" stop-opacity="0"/></linearGradient><linearGradient id="tg61" gradientUnits="userSpaceOnUse" x1="0" y1="347" x2="0" y2="362"><stop offset="0" stop-color="#d05048" stop-opacity="0"/><stop offset="0.500" stop-color="#d05048"/><stop offset="0.933" stop-color="#d05048"/><stop offset="1" stop-color="#d05048" stop-opacity="0"/></linearGradient><linearGradient id="tg62" gradientUnits="userSpaceOnUse" x1="0" y1="352" x2="0" y2="362"><stop offset="0" stop-color="#900c24" stop-opacity="0"/><stop offset="0.500" stop-color="#900c24"/><stop offset="0.900" stop-color="#900c24"/><stop offset="1" stop-color="#900c24" stop-opacity="0"/></linearGradient><linearGradient id="tg63" gradientUnits="userSpaceOnUse" x1="0" y1="331" x2="0" y2="362"><stop offset="0" stop-color="#f4b09a" stop-opacity="0"/><stop offset="0.097" stop-color="#f4b09a"/><stop offset="0.968" stop-color="#f4b09a"/><stop offset="1" stop-color="#f4b09a" stop-opacity="0"/></linearGradient><linearGradient id="tg64" gradientUnits="userSpaceOnUse" x1="0" y1="362" x2="0" y2="394"><stop offset="0" stop-color="#5a98c8" stop-opacity="0"/><stop offset="0.031" stop-color="#5a98c8"/><stop offset="0.969" stop-color="#5a98c8"/><stop offset="1" stop-color="#5a98c8" stop-opacity="0"/></linearGradient><linearGradient id="tg65" gradientUnits="userSpaceOnUse" x1="0" y1="362" x2="0" y2="375"><stop offset="0" stop-color="#06295c" stop-opacity="0"/><stop offset="0.077" stop-color="#06295c"/><stop offset="0.615" stop-color="#06295c"/><stop offset="1" stop-color="#06295c" stop-opacity="0"/></linearGradient><linearGradient id="tg66" gradientUnits="userSpaceOnUse" x1="0" y1="362" x2="0" y2="372"><stop offset="0" stop-color="#06295c" stop-opacity="0"/><stop offset="0.100" stop-color="#06295c"/><stop offset="0.700" stop-color="#06295c"/><stop offset="1" stop-color="#06295c" stop-opacity="0"/></linearGradient><linearGradient id="tg67" gradientUnits="userSpaceOnUse" x1="0" y1="366" x2="0" y2="394"><stop offset="0" stop-color="#2a6eb4" stop-opacity="0"/><stop offset="0.143" stop-color="#2a6eb4"/><stop offset="0.964" stop-color="#2a6eb4"/><stop offset="1" stop-color="#2a6eb4" stop-opacity="0"/></linearGradient><linearGradient id="tg68" gradientUnits="userSpaceOnUse" x1="0" y1="362" x2="0" y2="381"><stop offset="0" stop-color="#f4b09a" stop-opacity="0"/><stop offset="0.053" stop-color="#f4b09a"/><stop offset="0.632" stop-color="#f4b09a"/><stop offset="1" stop-color="#f4b09a" stop-opacity="0"/></linearGradient><linearGradient id="tg69" gradientUnits="userSpaceOnUse" x1="0" y1="362" x2="0" y2="375"><stop offset="0" stop-color="#d05048" stop-opacity="0"/><stop offset="0.077" stop-color="#d05048"/><stop offset="0.538" stop-color="#d05048"/><stop offset="1" stop-color="#d05048" stop-opacity="0"/></linearGradient><linearGradient id="tg70" gradientUnits="userSpaceOnUse" x1="0" y1="362" x2="0" y2="373"><stop offset="0" stop-color="#900c24" stop-opacity="0"/><stop offset="0.091" stop-color="#900c24"/><stop offset="0.545" stop-color="#900c24"/><stop offset="1" stop-color="#900c24" stop-opacity="0"/></linearGradient><linearGradient id="tg71" gradientUnits="userSpaceOnUse" x1="0" y1="383" x2="0" y2="394"><stop offset="0" stop-color="#d05048" stop-opacity="0"/><stop offset="0.364" stop-color="#d05048"/><stop offset="0.909" stop-color="#d05048"/><stop offset="1" stop-color="#d05048" stop-opacity="0"/></linearGradient><linearGradient id="tg72" gradientUnits="userSpaceOnUse" x1="0" y1="395" x2="0" y2="426"><stop offset="0" stop-color="#5a98c8" stop-opacity="0"/><stop offset="0.032" stop-color="#5a98c8"/><stop offset="0.871" stop-color="#5a98c8"/><stop offset="1" stop-color="#5a98c8" stop-opacity="0"/></linearGradient><linearGradient id="tg73" gradientUnits="userSpaceOnUse" x1="0" y1="395" x2="0" y2="424"><stop offset="0" stop-color="#2a6eb4" stop-opacity="0"/><stop offset="0.034" stop-color="#2a6eb4"/><stop offset="0.828" stop-color="#2a6eb4"/><stop offset="1" stop-color="#2a6eb4" stop-opacity="0"/></linearGradient><linearGradient id="tg74" gradientUnits="userSpaceOnUse" x1="0" y1="395" x2="0" y2="416"><stop offset="0" stop-color="#06295c" stop-opacity="0"/><stop offset="0.048" stop-color="#06295c"/><stop offset="0.714" stop-color="#06295c"/><stop offset="1" stop-color="#06295c" stop-opacity="0"/></linearGradient><linearGradient id="tg75" gradientUnits="userSpaceOnUse" x1="0" y1="395" x2="0" y2="413"><stop offset="0" stop-color="#f4b09a" stop-opacity="0"/><stop offset="0.056" stop-color="#f4b09a"/><stop offset="0.722" stop-color="#f4b09a"/><stop offset="1" stop-color="#f4b09a" stop-opacity="0"/></linearGradient><linearGradient id="tg76" gradientUnits="userSpaceOnUse" x1="0" y1="395" x2="0" y2="408"><stop offset="0" stop-color="#d05048" stop-opacity="0"/><stop offset="0.077" stop-color="#d05048"/><stop offset="0.692" stop-color="#d05048"/><stop offset="1" stop-color="#d05048" stop-opacity="0"/></linearGradient><linearGradient id="tg77" gradientUnits="userSpaceOnUse" x1="0" y1="395" x2="0" y2="403"><stop offset="0" stop-color="#900c24" stop-opacity="0"/><stop offset="0.125" stop-color="#900c24"/><stop offset="0.625" stop-color="#900c24"/><stop offset="1" stop-color="#900c24" stop-opacity="0"/></linearGradient><linearGradient id="tg78" gradientUnits="userSpaceOnUse" x1="0" y1="427" x2="0" y2="447"><stop offset="0" stop-color="#f4b09a" stop-opacity="0"/><stop offset="0.050" stop-color="#f4b09a"/><stop offset="0.700" stop-color="#f4b09a"/><stop offset="1" stop-color="#f4b09a" stop-opacity="0"/></linearGradient><linearGradient id="tg79" gradientUnits="userSpaceOnUse" x1="0" y1="427" x2="0" y2="441"><stop offset="0" stop-color="#d05048" stop-opacity="0"/><stop offset="0.071" stop-color="#d05048"/><stop offset="0.571" stop-color="#d05048"/><stop offset="1" stop-color="#d05048" stop-opacity="0"/></linearGradient><linearGradient id="tg80" gradientUnits="userSpaceOnUse" x1="0" y1="427" x2="0" y2="435"><stop offset="0" stop-color="#900c24" stop-opacity="0"/><stop offset="0.125" stop-color="#900c24"/><stop offset="0.500" stop-color="#900c24"/><stop offset="1" stop-color="#900c24" stop-opacity="0"/></linearGradient></defs>
</svg></body></html>
